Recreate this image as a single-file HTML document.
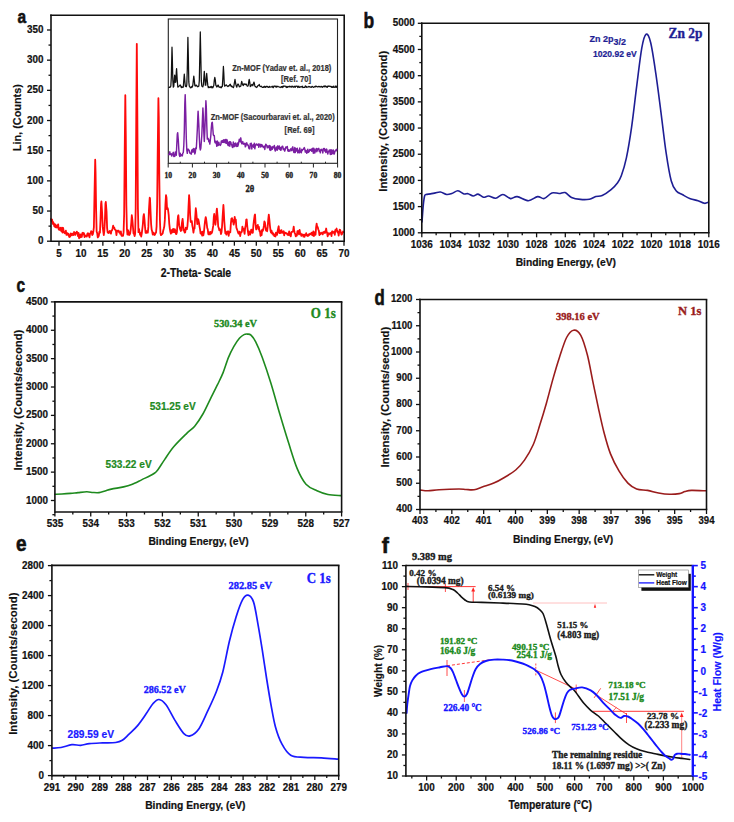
<!DOCTYPE html>
<html><head><meta charset="utf-8"><title>Figure</title>
<style>html,body{margin:0;padding:0;background:#fff;width:734px;height:822px;overflow:hidden}svg{display:block}</style>
</head><body>
<svg width="734" height="822" viewBox="0 0 734 822">
<rect width="734" height="822" fill="#fff"/>
<path d="M51,219.11 L51.55,221.31 L52.1,219.52 L52.65,223.88 L53.2,222.1 L53.75,223.86 L54.3,226.28 L54.85,224.17 L55.4,227.23 L55.95,225.16 L56.5,227.44 L57.05,227.55 L57.6,226.02 L58.15,224.35 L58.7,229.38 L59.25,229.93 L59.8,228.7 L60.35,227.69 L60.9,230.26 L61.45,231.3 L62,227.63 L62.55,232.66 L63.1,227.78 L63.65,231.19 L64.2,232.46 L64.75,233.27 L65.3,232.9 L65.85,230.67 L66.4,234.96 L66.95,233.11 L67.5,233.12 L68.05,234.9 L68.6,234.03 L69.15,236.93 L69.7,236.99 L70.25,236.15 L70.8,233.38 L71.35,234.8 L71.9,235.39 L72.45,233.71 L73,234.35 L73.55,235.07 L74.1,232.02 L74.65,232.4 L75.2,234.9 L75.75,232.94 L76.3,233.34 L76.85,231.62 L77.4,232.97 L77.95,236.17 L78.5,232.8 L79.05,238.26 L79.6,236.65 L80.15,234.42 L80.7,237.35 L81.25,234.72 L81.8,236.81 L82.35,233.01 L82.9,232.71 L83.45,234.37 L84,233.28 L84.55,237.12 L85.1,235.3 L85.65,236.03 L86.2,236.05 L86.75,236.56 L87.3,234.05 L87.85,233.14 L88.4,235.51 L88.95,234.08 L89.5,237.28 L90.05,233.31 L90.6,233.4 L91.15,231.21 L91.7,232.04 L92.25,235.01 L92.8,234.26 L93.35,231.52 L93.9,227.03 L94.45,196.47 L95.2,159.74 L95.55,171.67 L96.1,209.06 L96.65,231.75 L97.2,233.06 L97.75,237.47 L98.3,236.76 L98.85,235.53 L99.4,231.71 L99.95,232.64 L100.5,219.72 L101.05,203.95 L101.4,201.37 L102.15,213.28 L102.7,226.65 L103.25,231.27 L103.8,235.05 L104.35,230.77 L104.9,220.58 L105.45,203.65 L105.8,201.98 L106.55,211.61 L107.1,227.83 L107.65,232.37 L108.2,232.93 L108.75,233 L109.3,231.53 L109.85,230.86 L110.4,232.56 L110.95,233.68 L111.5,230.7 L112.05,230.26 L112.6,228.4 L113.15,225.66 L113.8,227.92 L114.25,227.51 L114.8,229.38 L115.35,229.89 L115.9,230.64 L116.45,235.1 L117,230.67 L117.55,231.41 L118.1,230.57 L118.65,230.53 L119.2,232.41 L119.75,232.12 L120.3,233.95 L120.85,231.35 L121.4,235.37 L121.95,236.01 L122.5,235.59 L123.05,235.75 L123.6,232.13 L124.15,214.31 L124.7,152.5 L125.3,95.17 L125.8,136.99 L126.35,204.94 L126.9,228.85 L127.45,234.59 L128,230.2 L128.55,232.05 L129.1,235.03 L129.65,234.58 L130.2,233.25 L130.75,229.11 L131.3,222.59 L131.8,215.25 L132.4,220.05 L132.95,226.92 L133.5,233.38 L134.05,233.92 L134.6,236.12 L135.15,233.73 L135.7,208.27 L136.25,119.3 L136.8,43.88 L137.35,115.15 L137.9,207.71 L138.45,232.14 L139,228.99 L139.55,231.94 L140.1,234.8 L140.65,233.16 L141.2,236.59 L141.75,233.55 L142.3,229.2 L142.85,224.33 L143.4,216.38 L143.9,214.05 L144.5,219.68 L145.05,227.21 L145.6,232.87 L146.15,230.9 L146.7,232.89 L147.25,231.56 L147.8,232.59 L148.35,226.9 L148.9,210.74 L149.7,197.75 L150,198.33 L150.55,211.53 L151.1,223.97 L151.65,229.61 L152.2,231.49 L152.75,234.53 L153.3,232.66 L153.85,233.37 L154.4,235.02 L154.95,234.78 L155.5,233.08 L156.05,232.69 L156.6,226.4 L157.15,204.18 L157.7,153 L158.4,98.19 L158.8,117.16 L159.35,179.96 L159.9,219.44 L160.45,233.31 L161,235.19 L161.55,234.63 L162.1,234.09 L162.65,233.47 L163.2,230.74 L163.75,228.68 L164.3,226.35 L164.85,219.88 L165.4,204.93 L166,195.19 L166.5,197.77 L167.05,209.11 L167.6,208.15 L168,209.35 L168.7,214.93 L169.25,223.58 L169.8,228.55 L170.35,231.73 L170.9,233.69 L171.45,230.08 L172,232.63 L172.55,229.85 L173.1,228.82 L173.65,232.15 L174.2,232.16 L174.75,229.09 L175.3,230.53 L175.85,233.93 L176.4,234 L176.95,231.94 L177.5,222.16 L178.05,216.12 L178.4,215.25 L179.15,225.17 L179.7,227.64 L180.25,229.35 L180.8,230.97 L181.35,230.14 L181.9,223.11 L182.6,218.87 L183,222.67 L183.55,230.5 L184.1,229.57 L184.65,232.64 L185.2,232.46 L185.75,227.63 L186.3,227.9 L186.85,229.22 L187.4,226.38 L187.95,219.27 L188.5,207 L189.1,195.1 L189.6,201.86 L190.15,215.25 L190.7,221.98 L191.5,221.74 L191.8,221.17 L192.35,225.83 L192.9,228.42 L193.45,232.72 L194,228.79 L194.55,228.43 L195.1,218.47 L195.8,208.24 L196.2,211.56 L196.75,218.09 L197.3,224.13 L197.85,219.12 L198.3,219.42 L198.95,222.51 L199.5,226.35 L200.05,229.41 L200.6,233.71 L201.15,231.86 L201.7,233.92 L202.25,235.66 L202.8,231.69 L203.35,235.45 L203.9,232.41 L204.45,226.93 L205,221.44 L205.7,217.06 L206.1,218.78 L206.65,223.07 L207.2,227.96 L207.75,229.29 L208.3,234.24 L208.85,232.11 L209.4,234.28 L209.95,234.42 L210.5,231.81 L211.05,233.53 L211.6,233.31 L212.15,231.82 L212.7,228.79 L213.25,225.64 L213.8,216.99 L214.2,214 L214.9,220.73 L215.45,224.74 L216,219.15 L216.55,211.6 L216.9,208.58 L217.65,217.33 L218.2,226.46 L218.75,227.84 L219.3,230.22 L219.85,229.48 L220.4,229.52 L220.95,234.02 L221.5,232.16 L222.05,226.45 L222.6,216.95 L223.4,204.99 L223.7,209.62 L224.25,220.59 L224.8,227.85 L225.35,233.3 L225.9,233.13 L226.45,234.58 L227,231.67 L227.55,231.52 L228.1,231.26 L228.65,235.77 L229.2,232.36 L229.75,231.75 L230.3,232.32 L230.85,223.84 L231.4,218.66 L232,218.14 L232.5,221.47 L233.05,220.11 L233.6,224.68 L234.15,222.52 L234.7,216.83 L235.1,219.33 L235.8,219.52 L236.35,227.45 L236.9,229.21 L237.45,230.52 L238,232.33 L238.55,233.6 L239.1,233.35 L239.65,231.56 L240.2,236.11 L240.75,232.94 L241.3,232.15 L241.85,231.82 L242.4,226.72 L242.95,228.7 L243.5,228.93 L244.05,230.86 L244.6,233.84 L245.15,227.71 L245.7,225.57 L246.25,219.57 L246.7,219.48 L247.35,227 L247.9,231.32 L248.45,235.24 L249,231.42 L249.55,234.12 L250.1,234.61 L250.65,232.63 L251.2,229.58 L251.75,229.94 L252.3,232.95 L252.85,232.69 L253.4,225.01 L253.95,220.32 L254.7,215.18 L255.05,214.51 L255.6,224.62 L256.15,229.48 L256.7,226.13 L257.25,226.08 L257.8,224.9 L258.35,229.02 L258.9,226.8 L259.45,231.1 L260,231.52 L260.55,235.98 L261.1,231.14 L261.65,235.04 L262.2,229.6 L262.75,230.85 L263.3,229.71 L263.85,225.88 L264.4,221.3 L264.9,222.49 L265.5,226.65 L266.05,230.66 L266.6,230.46 L267.15,231.18 L267.7,226.9 L268.25,219.37 L268.8,214.64 L269.35,219.57 L269.9,225.63 L270.45,230.22 L271,232.55 L271.55,230.64 L272.1,233.65 L272.65,232.64 L273.2,234.71 L273.75,233.94 L274.3,236.05 L274.85,234.92 L275.4,236.51 L275.95,232.54 L276.5,233.57 L277.05,234.86 L277.6,231.14 L278.4,227.32 L278.7,226.25 L279.25,233.01 L279.8,230.47 L280.35,233.03 L280.9,232.37 L281.45,230.16 L282,232.79 L282.55,232.58 L283.1,232.21 L283.65,231.21 L284.2,235.37 L284.75,232.6 L285.3,232.99 L285.85,232.8 L286.4,233.5 L286.95,233.34 L287.5,234.8 L288.05,234.4 L288.6,234.98 L289.15,231.46 L289.7,234.67 L290.25,235.59 L290.8,236.37 L291.35,232.19 L291.9,231.85 L292.45,231.79 L293,231.45 L293.7,226.72 L294.1,230.3 L294.65,232.79 L295.2,233.93 L295.75,236.4 L296.3,234.76 L296.85,235.63 L297.4,231.31 L297.95,230.9 L298.5,232.98 L299.05,234.35 L299.6,229.88 L300.15,233.56 L300.7,233.42 L301.25,235.89 L301.8,234.31 L302.35,234.44 L302.9,234.77 L303.45,236.66 L304,234.61 L304.55,236.89 L305.1,234.69 L305.65,235.16 L306.2,233.16 L306.75,235.39 L307.3,235.93 L307.85,234.86 L308.4,235.82 L308.95,234.2 L309.5,234.79 L310.05,233.61 L310.6,234.13 L311.15,233.68 L311.7,232.58 L312.25,235.24 L312.8,235.41 L313.35,231.41 L313.9,236.06 L314.45,232.51 L315,232.57 L315.55,234.8 L316.1,227.39 L316.65,223.73 L317,226.11 L317.75,227.2 L318.3,229.55 L318.85,230.63 L319.4,235.15 L319.95,233.4 L320.5,234.05 L321.05,232.68 L321.6,233.27 L322.15,233.27 L322.7,234.43 L323.25,232.07 L323.8,232.54 L324.35,231.62 L324.9,233.04 L325.45,232.26 L326.2,228.53 L326.55,231.3 L327.1,232.76 L327.65,236.45 L328.2,233.04 L328.75,234.66 L329.3,233.96 L329.85,233.58 L330.4,232.87 L330.95,233.63 L331.5,236.16 L332.05,231.34 L332.6,231.48 L333.15,232.8 L333.7,232.56 L334.25,231.78 L334.8,234.94 L335.35,230.02 L335.9,230.77 L336.6,228.53 L337,230.96 L337.55,232.33 L338.1,231.66 L338.65,235.54 L339.2,232.18 L339.75,229.55 L340.3,230.34 L340.85,232.56 L341.4,234.58 L341.95,234.29 L342.5,232.62 L343.05,231.56 L343.6,232.1" fill="none" stroke="#ff0a0a" stroke-width="1.8" stroke-linejoin="round" stroke-linecap="round" />
<rect x="168.3" y="19.0" width="169.2" height="144.3" fill="none" stroke="#222" stroke-width="1.1"/>
<line x1="168.2" y1="163.3" x2="168.2" y2="167.5" stroke="#222" stroke-width="1" />
<text x="0" y="0" font-size="7.6" text-anchor="middle" fill="#222" stroke="#222" stroke-width="0.35" style="font-family:'Liberation Serif',serif;font-weight:bold" transform="translate(168.2,177.5) scale(1,1.06)" >10</text>
<line x1="192.4" y1="163.3" x2="192.4" y2="167.5" stroke="#222" stroke-width="1" />
<text x="0" y="0" font-size="7.6" text-anchor="middle" fill="#222" stroke="#222" stroke-width="0.35" style="font-family:'Liberation Serif',serif;font-weight:bold" transform="translate(192.4,177.5) scale(1,1.06)" >20</text>
<line x1="216.6" y1="163.3" x2="216.6" y2="167.5" stroke="#222" stroke-width="1" />
<text x="0" y="0" font-size="7.6" text-anchor="middle" fill="#222" stroke="#222" stroke-width="0.35" style="font-family:'Liberation Serif',serif;font-weight:bold" transform="translate(216.6,177.5) scale(1,1.06)" >30</text>
<line x1="240.8" y1="163.3" x2="240.8" y2="167.5" stroke="#222" stroke-width="1" />
<text x="0" y="0" font-size="7.6" text-anchor="middle" fill="#222" stroke="#222" stroke-width="0.35" style="font-family:'Liberation Serif',serif;font-weight:bold" transform="translate(240.8,177.5) scale(1,1.06)" >40</text>
<line x1="265" y1="163.3" x2="265" y2="167.5" stroke="#222" stroke-width="1" />
<text x="0" y="0" font-size="7.6" text-anchor="middle" fill="#222" stroke="#222" stroke-width="0.35" style="font-family:'Liberation Serif',serif;font-weight:bold" transform="translate(265,177.5) scale(1,1.06)" >50</text>
<line x1="289.2" y1="163.3" x2="289.2" y2="167.5" stroke="#222" stroke-width="1" />
<text x="0" y="0" font-size="7.6" text-anchor="middle" fill="#222" stroke="#222" stroke-width="0.35" style="font-family:'Liberation Serif',serif;font-weight:bold" transform="translate(289.2,177.5) scale(1,1.06)" >60</text>
<line x1="313.4" y1="163.3" x2="313.4" y2="167.5" stroke="#222" stroke-width="1" />
<text x="0" y="0" font-size="7.6" text-anchor="middle" fill="#222" stroke="#222" stroke-width="0.35" style="font-family:'Liberation Serif',serif;font-weight:bold" transform="translate(313.4,177.5) scale(1,1.06)" >70</text>
<line x1="337.6" y1="163.3" x2="337.6" y2="167.5" stroke="#222" stroke-width="1" />
<text x="0" y="0" font-size="7.6" text-anchor="middle" fill="#222" stroke="#222" stroke-width="0.35" style="font-family:'Liberation Serif',serif;font-weight:bold" transform="translate(337.6,177.5) scale(1,1.06)" >80</text>
<line x1="180.3" y1="163.3" x2="180.3" y2="161.7" stroke="#222" stroke-width="1" />
<line x1="204.5" y1="163.3" x2="204.5" y2="161.7" stroke="#222" stroke-width="1" />
<line x1="228.7" y1="163.3" x2="228.7" y2="161.7" stroke="#222" stroke-width="1" />
<line x1="252.9" y1="163.3" x2="252.9" y2="161.7" stroke="#222" stroke-width="1" />
<line x1="277.1" y1="163.3" x2="277.1" y2="161.7" stroke="#222" stroke-width="1" />
<line x1="301.3" y1="163.3" x2="301.3" y2="161.7" stroke="#222" stroke-width="1" />
<line x1="325.5" y1="163.3" x2="325.5" y2="161.7" stroke="#222" stroke-width="1" />
<text x="0" y="0" font-size="8.6" text-anchor="middle" fill="#222" stroke="#222" stroke-width="0.35" style="font-family:'Liberation Serif',serif;font-weight:bold" transform="translate(249.9,191.6) scale(1,1.2)" >2&#952;</text>
<path d="M168.8,87.62 L169.3,87.12 L169.8,87.4 L170.3,87.01 L170.8,86.25 L171.3,77.6 L172,47.19 L172.3,56.8 L172.8,79.86 L173.3,87.14 L173.8,86.33 L174.3,78.68 L174.7,75.17 L175.3,82.41 L175.8,81.94 L176.3,72.15 L176.6,68.67 L177.3,80.92 L177.8,87.04 L178.3,86.87 L178.8,86.23 L179.3,86.03 L180,85.16 L180.3,84.98 L180.8,85.97 L181.3,87.6 L181.8,86.7 L182.3,87 L182.8,87.44 L183.3,87.08 L183.8,80.06 L184.3,74.14 L184.8,80.68 L185.3,85.98 L185.8,86.51 L186.3,86.75 L186.8,84.72 L187.3,68.94 L187.9,37.33 L188.3,54.69 L188.8,81.94 L189.3,86.21 L189.8,86.51 L190.3,87.77 L190.8,87.7 L191.3,87.57 L191.8,86.37 L192.3,87.07 L192.8,85.31 L193.3,80.63 L193.8,76.1 L194.3,80.24 L194.8,85.34 L195.3,86.1 L196,85.1 L196.3,85.17 L196.8,86.05 L197.3,86.2 L197.8,86.77 L198.3,86.4 L198.8,86.2 L199.3,80.72 L199.8,55.68 L200.3,31.89 L200.8,56.49 L201.3,80.92 L201.8,86.02 L202.3,86.42 L202.8,86.88 L203.3,85.14 L203.8,78.68 L204.3,71.37 L204.8,77.68 L205.3,85.21 L205.8,85.19 L206.3,78.34 L206.7,73.46 L207.3,80.53 L207.8,85.43 L208.3,87.68 L208.8,86.57 L209.3,87.2 L209.8,87.61 L210.3,87.38 L210.8,86.62 L211.3,86.45 L211.8,87.77 L212.3,86.86 L212.8,87.76 L213.3,86.45 L213.8,85.45 L214.3,80.06 L214.8,77.43 L215.3,79.89 L215.8,85.16 L216.3,85.94 L216.8,86.98 L217.3,86.61 L218,85.02 L218.3,85.07 L218.8,86.86 L219.3,87.25 L219.8,87.13 L220.3,86.84 L220.8,87.56 L221.3,87.74 L221.8,86.4 L222.3,86.59 L222.8,78.71 L223.4,66.49 L223.8,73.14 L224.3,84.76 L224.8,86.24 L225.3,85.54 L226,85 L226.3,84.88 L226.8,85.55 L227.3,86.26 L227.8,86.5 L228.3,85.89 L228.8,86.04 L229.3,85.31 L230,84.48 L230.3,84.28 L230.8,85.79 L231.3,86.52 L231.8,85.95 L232.3,86.88 L232.8,86.88 L233.3,87.68 L233.8,86.4 L234.3,83.48 L235,79.46 L235.3,81.26 L235.8,84.14 L236.3,86.19 L236.8,87.12 L237.3,85.11 L238,83.95 L238.3,84.32 L238.8,85.3 L239.3,86.81 L239.8,86.55 L240.3,86.34 L240.8,86.25 L241.3,83.41 L241.7,81.44 L242.3,83.52 L242.8,84.93 L243.3,85.59 L244,83.74 L244.3,83.91 L244.8,84.31 L245.3,84.7 L246,83.9 L246.3,84.32 L246.8,85.3 L247.3,86.18 L247.8,86.15 L248.3,85.17 L248.8,81.33 L249.2,79.41 L249.8,82.31 L250.3,86.56 L250.8,86.26 L251.3,85.16 L252,84.4 L252.3,84.93 L252.8,85.76 L253.3,83.95 L254,82.08 L254.3,83.17 L254.8,85.71 L255.3,86.7 L255.8,86.55 L256.3,87.51 L256.8,87.1 L257.3,86.88 L257.8,85.61 L258.3,85.56 L259,84.88 L259.3,84.43 L259.8,86.12 L260.3,86.52 L260.8,86.42 L261.3,86.2 L261.8,86.94 L262.3,87.31 L262.8,87.47 L263.3,86.82 L263.8,87.36 L264.3,86.37 L264.8,86.32 L265.3,87.36 L265.8,87.21 L266.3,86.36 L266.8,86.62 L267.3,86.36 L267.8,87.1 L268.3,87.44 L268.8,87.18 L269.3,86.37 L269.8,87.21 L270.3,87.08 L270.8,86.97 L271.3,86.96 L271.8,86.98 L272.3,86.16 L272.8,87.38 L273.3,87.62 L273.8,86.12 L274.3,86.22 L274.8,86.04 L275.3,86.93 L275.8,86.1 L276.3,86.13 L276.8,87.26 L277.3,86.42 L277.8,86.27 L278.3,86.55 L278.8,86.78 L279.3,87.14 L279.8,87.06 L280.3,87.24 L280.8,87.49 L281.3,86.66 L281.8,87.14 L282.3,86.3 L282.8,87.52 L283.3,86.15 L283.8,86.48 L284.3,86.11 L284.8,86.15 L285.3,86.15 L285.8,86.66 L286.3,87.56 L286.8,86.39 L287.3,87.3 L287.8,87.1 L288.3,86.51 L288.8,86.73 L289.3,86.91 L289.8,86.07 L290.3,86.59 L290.8,87.02 L291.3,87.16 L291.8,86.18 L292.3,86.8 L292.8,86.31 L293.3,86.99 L293.8,87.24 L294.3,86.7 L294.8,86.25 L295.3,87.28 L295.8,86.28 L296.3,86.07 L296.8,86.26 L297.3,86.23 L297.8,87.53 L298.3,86.53 L298.8,86.16 L299.3,87.46 L299.8,87.1 L300.3,87.1 L300.8,86.69 L301.3,86.85 L301.8,86.77 L302.3,86.28 L302.8,87.52 L303.3,87.43 L303.8,87.32 L304.3,87.32 L304.8,87.41 L305.3,85.96 L305.8,86.15 L306.3,87.37 L306.8,86.71 L307.3,87 L307.8,87 L308.3,86.94 L308.8,86.47 L309.3,86.56 L309.8,86.92 L310.3,87.19 L310.8,86.97 L311.3,87.3 L311.8,86.6 L312.3,86.35 L312.8,86.88 L313.3,87.36 L313.8,87.2 L314.3,86.89 L314.8,86.51 L315.3,86.23 L315.8,86.87 L316.3,86.19 L316.8,86.48 L317.3,86.78 L317.8,86.88 L318.3,86.68 L318.8,86.34 L319.3,86.79 L319.8,86.35 L320.3,86.73 L320.8,87.07 L321.3,86.6 L321.8,86.34 L322.3,87.34 L322.8,86.77 L323.3,86.77 L323.8,86.04 L324.3,85.95 L324.8,86.85 L325.3,86.01 L325.8,86.18 L326.3,87.02 L326.8,86.7 L327.3,87.24 L327.8,86.13 L328.3,86.37 L328.8,86.01 L329.3,86.16 L329.8,86.36 L330.3,86.25 L330.8,86.52 L331.3,87.26 L331.8,86.48 L332.3,87.41 L332.8,87.19 L333.3,86.18 L333.8,87.34 L334.3,87.27 L334.8,87.25 L335.3,86 L335.8,87.12 L336.3,87.37 L336.8,86.06" fill="none" stroke="#111" stroke-width="1.25" stroke-linejoin="round" stroke-linecap="round" />
<path d="M168.8,154.72 L169.3,154.03 L169.8,151.8 L170.3,154.51 L170.8,154.22 L171.3,153.7 L171.8,156.08 L172.3,154.07 L172.8,153.32 L173.3,152.3 L173.8,156.45 L174.3,155.15 L174.8,156.39 L175.3,152.03 L175.8,152.56 L176.3,155.24 L176.8,144.19 L177.3,134.19 L177.7,132.69 L178.3,140.1 L178.8,149.11 L179.3,155.05 L179.8,156.39 L180.3,153.28 L180.8,156.01 L181.3,155.14 L181.8,154.75 L182.3,155.93 L182.8,153.2 L183.3,152.63 L183.8,145.63 L184.3,131.29 L184.8,104.23 L185.2,94.63 L185.8,115.31 L186.3,138.41 L186.8,150.15 L187.3,153.36 L187.8,149.2 L188.3,149.14 L188.8,149.99 L189.3,150.7 L189.8,152.98 L190.3,153.41 L190.8,152.97 L191.3,154.2 L191.8,149.94 L192.3,152.05 L192.8,149.29 L193.3,151.96 L193.8,148.45 L194.3,149.03 L194.8,154.03 L195.3,152.54 L195.8,147.82 L196.3,148.7 L196.8,139.53 L197.3,129.67 L197.8,117.02 L198.1,111.14 L198.8,124.19 L199.3,137.2 L199.8,147.12 L200.3,149.97 L200.8,148.34 L201.3,142.29 L201.8,135.26 L202.3,123.02 L202.9,107.91 L203.3,115.46 L203.8,132.37 L204.3,141.54 L204.8,131.5 L205.3,117.39 L205.9,100.71 L206.3,107.16 L206.8,126.03 L207.3,139.14 L207.8,138.11 L208.4,138.87 L208.8,141.66 L209.3,140.22 L209.8,144.14 L210.3,140.17 L210.8,135.62 L211.3,128.05 L211.8,122.91 L212.3,122.31 L212.8,128.35 L213.3,134.96 L213.8,135.69 L214.3,135.45 L214.8,142.03 L215.3,142.97 L215.8,141.27 L216.3,142.92 L216.8,146.27 L217.3,140.97 L217.8,145.64 L218.3,145.36 L218.8,142.21 L219.3,144.71 L219.8,144.57 L220.3,145.37 L220.8,144.6 L221.3,141.01 L221.8,142.68 L222.3,140.57 L222.8,142.34 L223.3,142.37 L223.8,139.67 L224.3,142.51 L224.8,141.62 L225.3,139.4 L225.8,143.21 L226.3,143.47 L226.8,139.43 L227.3,140.68 L227.8,144.79 L228.3,145.69 L228.8,142.74 L229.3,141.72 L229.8,146.28 L230.3,141.82 L230.8,142.28 L231.3,144.01 L231.8,145.15 L232.3,147.11 L232.8,147.55 L233.3,142.05 L233.8,146.45 L234.3,143.69 L234.8,146.42 L235.3,143.03 L235.8,144.37 L236.3,146.1 L236.8,146.6 L237.3,142.96 L237.8,146.32 L238.3,144.63 L238.8,141.81 L239.3,139.25 L239.8,140.05 L240.3,141.71 L240.8,137.85 L241.3,142.32 L241.8,143.7 L242.3,142.4 L242.8,141.54 L243.3,144.17 L243.8,144.04 L244.3,143.68 L244.8,143.35 L245.3,146.79 L245.8,146 L246.3,143.19 L246.8,142.85 L247.3,144.89 L247.8,144.73 L248.3,145.41 L248.8,148.1 L249.3,148.75 L249.8,148.88 L250.3,143.55 L250.8,144.83 L251.3,143.29 L251.8,148.96 L252.3,145.3 L252.8,146.25 L253.3,144.78 L253.8,147.28 L254.3,143.22 L254.8,148.79 L255.3,145.99 L255.8,144.87 L256.3,143.91 L256.8,144.92 L257.3,145.14 L257.8,144.63 L258.3,143.92 L258.8,147.33 L259.3,145.35 L259.8,144.08 L260.3,144.3 L260.8,147.08 L261.3,144.89 L261.8,144.5 L262.3,146.29 L262.8,146.03 L263.3,147.54 L263.8,146.38 L264.3,146.28 L264.8,149.5 L265.3,146.19 L265.8,144.12 L266.3,144.85 L266.8,145.81 L267.3,147.9 L267.8,145.87 L268.3,146.84 L268.8,147.74 L269.3,145.4 L269.8,149.98 L270.3,146.03 L270.8,150.4 L271.3,147.02 L271.8,147.79 L272.3,149.35 L272.8,146.59 L273.3,147.85 L273.8,147.19 L274.3,145.41 L274.8,149.45 L275.3,150.96 L275.8,149.27 L276.3,147.06 L276.8,149.96 L277.3,150.21 L277.8,145.85 L278.3,147.37 L278.8,148.73 L279.3,146.08 L279.8,149.52 L280.3,147.53 L280.8,150.39 L281.3,149.04 L281.8,146.84 L282.3,146.24 L282.8,146.5 L283.3,149.52 L283.8,148.38 L284.3,150.03 L284.8,151.16 L285.3,149.05 L285.8,147.06 L286.3,147.04 L286.8,147.91 L287.3,146.53 L287.8,150.62 L288.3,151.32 L288.8,149.68 L289.3,150.78 L289.8,151.2 L290.3,150.03 L290.8,148.79 L291.3,149.61 L291.8,150.7 L292.3,147.59 L292.8,146.76 L293.3,149.96 L293.8,152.25 L294.3,152.54 L294.8,147.52 L295.3,152.53 L295.8,148.56 L296.3,149.41 L296.8,151.01 L297.3,148.14 L297.8,152.8 L298.3,152.13 L298.8,150.24 L299.3,152.85 L299.8,148.04 L300.3,151.62 L300.8,152.23 L301.3,152.82 L301.8,149.35 L302.3,150.48 L302.8,149.4 L303.3,149.28 L303.8,148.39 L304.3,147.51 L304.8,149.18 L305.3,152.12 L305.8,150.49 L306.3,152.29 L306.8,153.33 L307.3,150.59 L307.8,149.16 L308.3,152.4 L308.8,151.87 L309.3,151.45 L309.8,149.37 L310.3,150.46 L310.8,149.92 L311.3,149.1 L311.8,151.3 L312.3,148.93 L312.8,148.28 L313.3,153.22 L313.8,148.17 L314.3,149.46 L314.8,153.04 L315.3,151.12 L315.8,150.12 L316.3,148.44 L316.8,151.66 L317.3,150.54 L317.8,148.7 L318.3,149.22 L318.8,148.37 L319.3,151.28 L319.8,150.18 L320.3,152.88 L320.8,149.81 L321.3,149.25 L321.8,150.34 L322.3,149.91 L322.8,152.96 L323.3,148.87 L323.8,148.41 L324.3,148.46 L324.8,151.13 L325.3,149.63 L325.8,152.48 L326.3,148.97 L326.8,149.32 L327.3,152.39 L327.8,154.01 L328.3,151.89 L328.8,151.26 L329.3,149.98 L329.8,151.69 L330.3,154.47 L330.8,149.82 L331.3,154.31 L331.8,149.92 L332.3,153.71 L332.8,152.77 L333.3,150.08 L333.8,153.99 L334.3,153.96 L334.8,151.78 L335.3,150.57 L335.8,149.9 L336.3,150.83 L336.8,149.31" fill="none" stroke="#7b1fa2" stroke-width="1.45" stroke-linejoin="round" stroke-linecap="round" />
<text x="0" y="0" font-size="7.5" text-anchor="start" fill="#333" stroke="#333" stroke-width="0.2" style="font-family:'Liberation Sans',sans-serif;font-weight:bold" transform="translate(232.2,71.3) scale(1,1.15)" >Zn-MOF (Yadav et. al., 2018)</text>
<text x="0" y="0" font-size="7.6" text-anchor="start" fill="#333" stroke="#333" stroke-width="0.2" style="font-family:'Liberation Sans',sans-serif;font-weight:bold" transform="translate(281,82.3) scale(1,1.15)" >[Ref. 70]</text>
<text x="0" y="0" font-size="7.45" text-anchor="start" fill="#333" stroke="#333" stroke-width="0.2" style="font-family:'Liberation Sans',sans-serif;font-weight:bold" transform="translate(210.7,119.9) scale(1,1.15)" >Zn-MOF (Sacourbaravi et. al., 2020)</text>
<text x="0" y="0" font-size="7.6" text-anchor="start" fill="#333" stroke="#333" stroke-width="0.2" style="font-family:'Liberation Sans',sans-serif;font-weight:bold" transform="translate(284.6,133.2) scale(1,1.15)" >[Ref. 69]</text>
<line x1="51" y1="241.2" x2="345" y2="241.2" stroke="#111" stroke-width="1.6" />
<line x1="51" y1="14.5" x2="51" y2="242" stroke="#111" stroke-width="1.6" />
<line x1="50.2" y1="15.3" x2="345" y2="15.3" stroke="#111" stroke-width="1.6" />
<line x1="344.2" y1="15.3" x2="344.2" y2="241.2" stroke="#111" stroke-width="1.6" />
<line x1="59" y1="241.2" x2="59" y2="245.7" stroke="#111" stroke-width="1.3" />
<line x1="80.92" y1="241.2" x2="80.92" y2="245.7" stroke="#111" stroke-width="1.3" />
<line x1="102.85" y1="241.2" x2="102.85" y2="245.7" stroke="#111" stroke-width="1.3" />
<line x1="124.77" y1="241.2" x2="124.77" y2="245.7" stroke="#111" stroke-width="1.3" />
<line x1="146.69" y1="241.2" x2="146.69" y2="245.7" stroke="#111" stroke-width="1.3" />
<line x1="168.62" y1="241.2" x2="168.62" y2="245.7" stroke="#111" stroke-width="1.3" />
<line x1="190.54" y1="241.2" x2="190.54" y2="245.7" stroke="#111" stroke-width="1.3" />
<line x1="212.46" y1="241.2" x2="212.46" y2="245.7" stroke="#111" stroke-width="1.3" />
<line x1="234.38" y1="241.2" x2="234.38" y2="245.7" stroke="#111" stroke-width="1.3" />
<line x1="256.31" y1="241.2" x2="256.31" y2="245.7" stroke="#111" stroke-width="1.3" />
<line x1="278.23" y1="241.2" x2="278.23" y2="245.7" stroke="#111" stroke-width="1.3" />
<line x1="300.15" y1="241.2" x2="300.15" y2="245.7" stroke="#111" stroke-width="1.3" />
<line x1="322.08" y1="241.2" x2="322.08" y2="245.7" stroke="#111" stroke-width="1.3" />
<line x1="344" y1="241.2" x2="344" y2="245.7" stroke="#111" stroke-width="1.3" />
<line x1="69.96" y1="241.2" x2="69.96" y2="243.7" stroke="#111" stroke-width="1.3" />
<line x1="91.88" y1="241.2" x2="91.88" y2="243.7" stroke="#111" stroke-width="1.3" />
<line x1="113.81" y1="241.2" x2="113.81" y2="243.7" stroke="#111" stroke-width="1.3" />
<line x1="135.73" y1="241.2" x2="135.73" y2="243.7" stroke="#111" stroke-width="1.3" />
<line x1="157.65" y1="241.2" x2="157.65" y2="243.7" stroke="#111" stroke-width="1.3" />
<line x1="179.58" y1="241.2" x2="179.58" y2="243.7" stroke="#111" stroke-width="1.3" />
<line x1="201.5" y1="241.2" x2="201.5" y2="243.7" stroke="#111" stroke-width="1.3" />
<line x1="223.42" y1="241.2" x2="223.42" y2="243.7" stroke="#111" stroke-width="1.3" />
<line x1="245.35" y1="241.2" x2="245.35" y2="243.7" stroke="#111" stroke-width="1.3" />
<line x1="267.27" y1="241.2" x2="267.27" y2="243.7" stroke="#111" stroke-width="1.3" />
<line x1="289.19" y1="241.2" x2="289.19" y2="243.7" stroke="#111" stroke-width="1.3" />
<line x1="311.12" y1="241.2" x2="311.12" y2="243.7" stroke="#111" stroke-width="1.3" />
<line x1="333.04" y1="241.2" x2="333.04" y2="243.7" stroke="#111" stroke-width="1.3" />
<text x="0" y="0" font-size="9.9" text-anchor="middle" fill="#111" stroke="#111" stroke-width="0.2" style="font-family:'Liberation Sans',sans-serif;font-weight:bold" transform="translate(59,257.3) scale(1,1.15)" >5</text>
<text x="0" y="0" font-size="9.9" text-anchor="middle" fill="#111" stroke="#111" stroke-width="0.2" style="font-family:'Liberation Sans',sans-serif;font-weight:bold" transform="translate(80.92,257.3) scale(1,1.15)" >10</text>
<text x="0" y="0" font-size="9.9" text-anchor="middle" fill="#111" stroke="#111" stroke-width="0.2" style="font-family:'Liberation Sans',sans-serif;font-weight:bold" transform="translate(102.85,257.3) scale(1,1.15)" >15</text>
<text x="0" y="0" font-size="9.9" text-anchor="middle" fill="#111" stroke="#111" stroke-width="0.2" style="font-family:'Liberation Sans',sans-serif;font-weight:bold" transform="translate(124.77,257.3) scale(1,1.15)" >20</text>
<text x="0" y="0" font-size="9.9" text-anchor="middle" fill="#111" stroke="#111" stroke-width="0.2" style="font-family:'Liberation Sans',sans-serif;font-weight:bold" transform="translate(146.69,257.3) scale(1,1.15)" >25</text>
<text x="0" y="0" font-size="9.9" text-anchor="middle" fill="#111" stroke="#111" stroke-width="0.2" style="font-family:'Liberation Sans',sans-serif;font-weight:bold" transform="translate(168.62,257.3) scale(1,1.15)" >30</text>
<text x="0" y="0" font-size="9.9" text-anchor="middle" fill="#111" stroke="#111" stroke-width="0.2" style="font-family:'Liberation Sans',sans-serif;font-weight:bold" transform="translate(190.54,257.3) scale(1,1.15)" >35</text>
<text x="0" y="0" font-size="9.9" text-anchor="middle" fill="#111" stroke="#111" stroke-width="0.2" style="font-family:'Liberation Sans',sans-serif;font-weight:bold" transform="translate(212.46,257.3) scale(1,1.15)" >40</text>
<text x="0" y="0" font-size="9.9" text-anchor="middle" fill="#111" stroke="#111" stroke-width="0.2" style="font-family:'Liberation Sans',sans-serif;font-weight:bold" transform="translate(234.38,257.3) scale(1,1.15)" >45</text>
<text x="0" y="0" font-size="9.9" text-anchor="middle" fill="#111" stroke="#111" stroke-width="0.2" style="font-family:'Liberation Sans',sans-serif;font-weight:bold" transform="translate(256.31,257.3) scale(1,1.15)" >50</text>
<text x="0" y="0" font-size="9.9" text-anchor="middle" fill="#111" stroke="#111" stroke-width="0.2" style="font-family:'Liberation Sans',sans-serif;font-weight:bold" transform="translate(278.23,257.3) scale(1,1.15)" >55</text>
<text x="0" y="0" font-size="9.9" text-anchor="middle" fill="#111" stroke="#111" stroke-width="0.2" style="font-family:'Liberation Sans',sans-serif;font-weight:bold" transform="translate(300.15,257.3) scale(1,1.15)" >60</text>
<text x="0" y="0" font-size="9.9" text-anchor="middle" fill="#111" stroke="#111" stroke-width="0.2" style="font-family:'Liberation Sans',sans-serif;font-weight:bold" transform="translate(322.08,257.3) scale(1,1.15)" >65</text>
<text x="0" y="0" font-size="9.9" text-anchor="middle" fill="#111" stroke="#111" stroke-width="0.2" style="font-family:'Liberation Sans',sans-serif;font-weight:bold" transform="translate(344,257.3) scale(1,1.15)" >70</text>
<line x1="51" y1="241.2" x2="47" y2="241.2" stroke="#111" stroke-width="1.3" />
<line x1="51" y1="211.03" x2="47" y2="211.03" stroke="#111" stroke-width="1.3" />
<line x1="51" y1="180.86" x2="47" y2="180.86" stroke="#111" stroke-width="1.3" />
<line x1="51" y1="150.69" x2="47" y2="150.69" stroke="#111" stroke-width="1.3" />
<line x1="51" y1="120.51" x2="47" y2="120.51" stroke="#111" stroke-width="1.3" />
<line x1="51" y1="90.34" x2="47" y2="90.34" stroke="#111" stroke-width="1.3" />
<line x1="51" y1="60.17" x2="47" y2="60.17" stroke="#111" stroke-width="1.3" />
<line x1="51" y1="30" x2="47" y2="30" stroke="#111" stroke-width="1.3" />
<line x1="51" y1="226.11" x2="48.5" y2="226.11" stroke="#111" stroke-width="1.3" />
<line x1="51" y1="195.94" x2="48.5" y2="195.94" stroke="#111" stroke-width="1.3" />
<line x1="51" y1="165.77" x2="48.5" y2="165.77" stroke="#111" stroke-width="1.3" />
<line x1="51" y1="135.6" x2="48.5" y2="135.6" stroke="#111" stroke-width="1.3" />
<line x1="51" y1="105.43" x2="48.5" y2="105.43" stroke="#111" stroke-width="1.3" />
<line x1="51" y1="75.26" x2="48.5" y2="75.26" stroke="#111" stroke-width="1.3" />
<line x1="51" y1="45.09" x2="48.5" y2="45.09" stroke="#111" stroke-width="1.3" />
<text x="0" y="0" font-size="9.9" text-anchor="end" fill="#111" stroke="#111" stroke-width="0.2" style="font-family:'Liberation Sans',sans-serif;font-weight:bold" transform="translate(43.5,244.28) scale(1,1.15)" >0</text>
<text x="0" y="0" font-size="9.9" text-anchor="end" fill="#111" stroke="#111" stroke-width="0.2" style="font-family:'Liberation Sans',sans-serif;font-weight:bold" transform="translate(43.5,214.1) scale(1,1.15)" >50</text>
<text x="0" y="0" font-size="9.9" text-anchor="end" fill="#111" stroke="#111" stroke-width="0.2" style="font-family:'Liberation Sans',sans-serif;font-weight:bold" transform="translate(43.5,183.93) scale(1,1.15)" >100</text>
<text x="0" y="0" font-size="9.9" text-anchor="end" fill="#111" stroke="#111" stroke-width="0.2" style="font-family:'Liberation Sans',sans-serif;font-weight:bold" transform="translate(43.5,153.76) scale(1,1.15)" >150</text>
<text x="0" y="0" font-size="9.9" text-anchor="end" fill="#111" stroke="#111" stroke-width="0.2" style="font-family:'Liberation Sans',sans-serif;font-weight:bold" transform="translate(43.5,123.59) scale(1,1.15)" >200</text>
<text x="0" y="0" font-size="9.9" text-anchor="end" fill="#111" stroke="#111" stroke-width="0.2" style="font-family:'Liberation Sans',sans-serif;font-weight:bold" transform="translate(43.5,93.42) scale(1,1.15)" >250</text>
<text x="0" y="0" font-size="9.9" text-anchor="end" fill="#111" stroke="#111" stroke-width="0.2" style="font-family:'Liberation Sans',sans-serif;font-weight:bold" transform="translate(43.5,63.25) scale(1,1.15)" >300</text>
<text x="0" y="0" font-size="9.9" text-anchor="end" fill="#111" stroke="#111" stroke-width="0.2" style="font-family:'Liberation Sans',sans-serif;font-weight:bold" transform="translate(43.5,33.08) scale(1,1.15)" >350</text>
<text x="0" y="0" font-size="10.4" text-anchor="middle" fill="#111" stroke="#111" stroke-width="0.2" style="font-family:'Liberation Sans',sans-serif;font-weight:bold" transform="translate(195.9,277.3) scale(1,1.15)" >2-Theta- Scale</text>
<text x="0" y="0" font-size="10.3" fill="#111" stroke="#111" stroke-width="0.15" style="font-family:'Liberation Sans',sans-serif;font-weight:bold" transform="translate(21,151.2) rotate(-90) scale(1.0576,1)">Lin, (Counts)</text>
<text x="0" y="0" font-size="19.1" fill="#111" stroke="#111" stroke-width="0.6" style="font-family:'Liberation Sans',sans-serif;font-weight:bold" transform="translate(17.5,22.6) scale(0.81,1)">a</text>
<path d="M422,222 C422.22,219.17 422.87,209.33 423.3,205 C423.73,200.67 424.15,197.73 424.6,196 C425.05,194.27 425.02,194.95 426,194.6 C426.98,194.25 428.93,194.18 430.5,193.9 C432.07,193.62 433.73,193.22 435.4,192.9 C437.07,192.58 438.62,191.73 440.5,192 C442.38,192.27 444.82,194.25 446.7,194.5 C448.58,194.75 449.93,194.12 451.8,193.5 C453.67,192.88 455.87,190.73 457.9,190.8 C459.93,190.87 462.3,193.42 464,193.9 C465.7,194.38 466.57,193.35 468.1,193.7 C469.63,194.05 471.55,195.93 473.2,196 C474.85,196.07 476.28,193.9 478,194.1 C479.72,194.3 481.73,196.88 483.5,197.2 C485.27,197.52 486.57,195.83 488.6,196 C490.63,196.17 493.32,198.45 495.7,198.2 C498.08,197.95 500.42,194.43 502.9,194.5 C505.38,194.57 508.22,198.25 510.6,198.6 C512.98,198.95 514.23,196.25 517.2,196.6 C520.17,196.95 525,200.7 528.4,200.7 C531.8,200.7 534.97,196.95 537.6,196.6 C540.23,196.25 541.82,199.22 544.2,198.6 C546.58,197.98 549.42,193.75 551.9,192.9 C554.38,192.05 556.9,193.55 559.1,193.5 C561.3,193.45 563.03,191.95 565.1,192.6 C567.17,193.25 568.95,196.27 571.5,197.4 C574.05,198.53 577.42,199.1 580.4,199.4 C583.38,199.7 586.83,199.67 589.4,199.2 C591.97,198.73 593.67,197.2 595.8,196.6 C597.93,196 599.65,196.75 602.2,195.6 C604.75,194.45 608.63,191.72 611.1,189.7 C613.57,187.68 615.3,185.83 617,183.5 C618.7,181.17 619.73,179.98 621.3,175.7 C622.87,171.42 624.68,165.9 626.4,157.8 C628.12,149.7 629.88,139.03 631.6,127.1 C633.32,115.17 635,99.4 636.7,86.2 C638.4,73 640.23,56.57 641.8,47.9 C643.37,39.23 644.62,35.05 646.1,34.2 C647.58,33.35 649.08,36.27 650.7,42.8 C652.32,49.33 654.1,61.9 655.8,73.4 C657.5,84.9 659.18,98.58 660.9,111.8 C662.62,125.02 664.38,141.2 666.1,152.7 C667.82,164.2 669.5,174.42 671.2,180.8 C672.9,187.18 674.38,188.67 676.3,191 C678.22,193.33 680.37,193.52 682.7,194.8 C685.03,196.08 687.75,197.72 690.3,198.7 C692.85,199.68 695.65,199.93 698,200.7 C700.35,201.47 702.68,203.03 704.4,203.3 C706.12,203.57 707.65,202.47 708.3,202.3" fill="none" stroke="#1e1e94" stroke-width="1.6" stroke-linejoin="round" stroke-linecap="round" />
<line x1="421.8" y1="232.8" x2="709.6" y2="232.8" stroke="#111" stroke-width="1.6" />
<line x1="421.8" y1="22.4" x2="421.8" y2="233.6" stroke="#111" stroke-width="1.6" />
<line x1="421" y1="23.2" x2="709.6" y2="23.2" stroke="#111" stroke-width="1.6" />
<line x1="708.8" y1="23.2" x2="708.8" y2="232.8" stroke="#111" stroke-width="1.6" />
<line x1="421.8" y1="232.8" x2="421.8" y2="237.3" stroke="#111" stroke-width="1.3" />
<line x1="450.5" y1="232.8" x2="450.5" y2="237.3" stroke="#111" stroke-width="1.3" />
<line x1="479.2" y1="232.8" x2="479.2" y2="237.3" stroke="#111" stroke-width="1.3" />
<line x1="507.9" y1="232.8" x2="507.9" y2="237.3" stroke="#111" stroke-width="1.3" />
<line x1="536.6" y1="232.8" x2="536.6" y2="237.3" stroke="#111" stroke-width="1.3" />
<line x1="565.3" y1="232.8" x2="565.3" y2="237.3" stroke="#111" stroke-width="1.3" />
<line x1="594" y1="232.8" x2="594" y2="237.3" stroke="#111" stroke-width="1.3" />
<line x1="622.7" y1="232.8" x2="622.7" y2="237.3" stroke="#111" stroke-width="1.3" />
<line x1="651.4" y1="232.8" x2="651.4" y2="237.3" stroke="#111" stroke-width="1.3" />
<line x1="680.1" y1="232.8" x2="680.1" y2="237.3" stroke="#111" stroke-width="1.3" />
<line x1="708.8" y1="232.8" x2="708.8" y2="237.3" stroke="#111" stroke-width="1.3" />
<line x1="436.15" y1="232.8" x2="436.15" y2="235.3" stroke="#111" stroke-width="1.3" />
<line x1="464.85" y1="232.8" x2="464.85" y2="235.3" stroke="#111" stroke-width="1.3" />
<line x1="493.55" y1="232.8" x2="493.55" y2="235.3" stroke="#111" stroke-width="1.3" />
<line x1="522.25" y1="232.8" x2="522.25" y2="235.3" stroke="#111" stroke-width="1.3" />
<line x1="550.95" y1="232.8" x2="550.95" y2="235.3" stroke="#111" stroke-width="1.3" />
<line x1="579.65" y1="232.8" x2="579.65" y2="235.3" stroke="#111" stroke-width="1.3" />
<line x1="608.35" y1="232.8" x2="608.35" y2="235.3" stroke="#111" stroke-width="1.3" />
<line x1="637.05" y1="232.8" x2="637.05" y2="235.3" stroke="#111" stroke-width="1.3" />
<line x1="665.75" y1="232.8" x2="665.75" y2="235.3" stroke="#111" stroke-width="1.3" />
<line x1="694.45" y1="232.8" x2="694.45" y2="235.3" stroke="#111" stroke-width="1.3" />
<text x="0" y="0" font-size="9.9" text-anchor="middle" fill="#111" stroke="#111" stroke-width="0.2" style="font-family:'Liberation Sans',sans-serif;font-weight:bold" transform="translate(421.8,248) scale(1,1.15)" >1036</text>
<text x="0" y="0" font-size="9.9" text-anchor="middle" fill="#111" stroke="#111" stroke-width="0.2" style="font-family:'Liberation Sans',sans-serif;font-weight:bold" transform="translate(450.5,248) scale(1,1.15)" >1034</text>
<text x="0" y="0" font-size="9.9" text-anchor="middle" fill="#111" stroke="#111" stroke-width="0.2" style="font-family:'Liberation Sans',sans-serif;font-weight:bold" transform="translate(479.2,248) scale(1,1.15)" >1032</text>
<text x="0" y="0" font-size="9.9" text-anchor="middle" fill="#111" stroke="#111" stroke-width="0.2" style="font-family:'Liberation Sans',sans-serif;font-weight:bold" transform="translate(507.9,248) scale(1,1.15)" >1030</text>
<text x="0" y="0" font-size="9.9" text-anchor="middle" fill="#111" stroke="#111" stroke-width="0.2" style="font-family:'Liberation Sans',sans-serif;font-weight:bold" transform="translate(536.6,248) scale(1,1.15)" >1028</text>
<text x="0" y="0" font-size="9.9" text-anchor="middle" fill="#111" stroke="#111" stroke-width="0.2" style="font-family:'Liberation Sans',sans-serif;font-weight:bold" transform="translate(565.3,248) scale(1,1.15)" >1026</text>
<text x="0" y="0" font-size="9.9" text-anchor="middle" fill="#111" stroke="#111" stroke-width="0.2" style="font-family:'Liberation Sans',sans-serif;font-weight:bold" transform="translate(594,248) scale(1,1.15)" >1024</text>
<text x="0" y="0" font-size="9.9" text-anchor="middle" fill="#111" stroke="#111" stroke-width="0.2" style="font-family:'Liberation Sans',sans-serif;font-weight:bold" transform="translate(622.7,248) scale(1,1.15)" >1022</text>
<text x="0" y="0" font-size="9.9" text-anchor="middle" fill="#111" stroke="#111" stroke-width="0.2" style="font-family:'Liberation Sans',sans-serif;font-weight:bold" transform="translate(651.4,248) scale(1,1.15)" >1020</text>
<text x="0" y="0" font-size="9.9" text-anchor="middle" fill="#111" stroke="#111" stroke-width="0.2" style="font-family:'Liberation Sans',sans-serif;font-weight:bold" transform="translate(680.1,248) scale(1,1.15)" >1018</text>
<text x="0" y="0" font-size="9.9" text-anchor="middle" fill="#111" stroke="#111" stroke-width="0.2" style="font-family:'Liberation Sans',sans-serif;font-weight:bold" transform="translate(708.8,248) scale(1,1.15)" >1016</text>
<line x1="421.8" y1="232.8" x2="417.8" y2="232.8" stroke="#111" stroke-width="1.3" />
<line x1="421.8" y1="206.61" x2="417.8" y2="206.61" stroke="#111" stroke-width="1.3" />
<line x1="421.8" y1="180.43" x2="417.8" y2="180.43" stroke="#111" stroke-width="1.3" />
<line x1="421.8" y1="154.24" x2="417.8" y2="154.24" stroke="#111" stroke-width="1.3" />
<line x1="421.8" y1="128.05" x2="417.8" y2="128.05" stroke="#111" stroke-width="1.3" />
<line x1="421.8" y1="101.86" x2="417.8" y2="101.86" stroke="#111" stroke-width="1.3" />
<line x1="421.8" y1="75.68" x2="417.8" y2="75.68" stroke="#111" stroke-width="1.3" />
<line x1="421.8" y1="49.49" x2="417.8" y2="49.49" stroke="#111" stroke-width="1.3" />
<line x1="421.8" y1="23.3" x2="417.8" y2="23.3" stroke="#111" stroke-width="1.3" />
<line x1="421.8" y1="219.71" x2="419.3" y2="219.71" stroke="#111" stroke-width="1.3" />
<line x1="421.8" y1="193.52" x2="419.3" y2="193.52" stroke="#111" stroke-width="1.3" />
<line x1="421.8" y1="167.33" x2="419.3" y2="167.33" stroke="#111" stroke-width="1.3" />
<line x1="421.8" y1="141.14" x2="419.3" y2="141.14" stroke="#111" stroke-width="1.3" />
<line x1="421.8" y1="114.96" x2="419.3" y2="114.96" stroke="#111" stroke-width="1.3" />
<line x1="421.8" y1="88.77" x2="419.3" y2="88.77" stroke="#111" stroke-width="1.3" />
<line x1="421.8" y1="62.58" x2="419.3" y2="62.58" stroke="#111" stroke-width="1.3" />
<line x1="421.8" y1="36.39" x2="419.3" y2="36.39" stroke="#111" stroke-width="1.3" />
<text x="0" y="0" font-size="9.9" text-anchor="end" fill="#111" stroke="#111" stroke-width="0.2" style="font-family:'Liberation Sans',sans-serif;font-weight:bold" transform="translate(414.8,235.88) scale(1,1.15)" >1000</text>
<text x="0" y="0" font-size="9.9" text-anchor="end" fill="#111" stroke="#111" stroke-width="0.2" style="font-family:'Liberation Sans',sans-serif;font-weight:bold" transform="translate(414.8,209.69) scale(1,1.15)" >1500</text>
<text x="0" y="0" font-size="9.9" text-anchor="end" fill="#111" stroke="#111" stroke-width="0.2" style="font-family:'Liberation Sans',sans-serif;font-weight:bold" transform="translate(414.8,183.5) scale(1,1.15)" >2000</text>
<text x="0" y="0" font-size="9.9" text-anchor="end" fill="#111" stroke="#111" stroke-width="0.2" style="font-family:'Liberation Sans',sans-serif;font-weight:bold" transform="translate(414.8,157.31) scale(1,1.15)" >2500</text>
<text x="0" y="0" font-size="9.9" text-anchor="end" fill="#111" stroke="#111" stroke-width="0.2" style="font-family:'Liberation Sans',sans-serif;font-weight:bold" transform="translate(414.8,131.13) scale(1,1.15)" >3000</text>
<text x="0" y="0" font-size="9.9" text-anchor="end" fill="#111" stroke="#111" stroke-width="0.2" style="font-family:'Liberation Sans',sans-serif;font-weight:bold" transform="translate(414.8,104.94) scale(1,1.15)" >3500</text>
<text x="0" y="0" font-size="9.9" text-anchor="end" fill="#111" stroke="#111" stroke-width="0.2" style="font-family:'Liberation Sans',sans-serif;font-weight:bold" transform="translate(414.8,78.75) scale(1,1.15)" >4000</text>
<text x="0" y="0" font-size="9.9" text-anchor="end" fill="#111" stroke="#111" stroke-width="0.2" style="font-family:'Liberation Sans',sans-serif;font-weight:bold" transform="translate(414.8,52.56) scale(1,1.15)" >4500</text>
<text x="0" y="0" font-size="9.9" text-anchor="end" fill="#111" stroke="#111" stroke-width="0.2" style="font-family:'Liberation Sans',sans-serif;font-weight:bold" transform="translate(414.8,26.38) scale(1,1.15)" >5000</text>
<text x="0" y="0" font-size="10.3" text-anchor="middle" fill="#111" stroke="#111" stroke-width="0.2" style="font-family:'Liberation Sans',sans-serif;font-weight:bold" transform="translate(565.8,266.4) scale(1,1.15)" >Binding Energy, (eV)</text>
<text x="0" y="0" font-size="10.3" fill="#111" stroke="#111" stroke-width="0.15" style="font-family:'Liberation Sans',sans-serif;font-weight:bold" transform="translate(386.8,191.7) rotate(-90) scale(1.0977,1)">Intensity, (Counts/second)</text>
<text x="0" y="0" font-size="22.1" fill="#111" stroke="#111" stroke-width="0.6" style="font-family:'Liberation Sans',sans-serif;font-weight:bold" transform="translate(363.6,28.0) scale(0.79,1)">b</text>
<text x="0" y="0" font-size="13.4" text-anchor="start" fill="#1e1e94" stroke="#1e1e94" stroke-width="0.35" style="font-family:'Liberation Serif',serif;font-weight:bold" transform="translate(668.6,37.9) scale(1,1.06)" >Zn 2p</text>
<text x="589.5" y="42.3" font-size="9.0" text-anchor="start" fill="#1e1e94" stroke="#1e1e94" stroke-width="0.2" style="font-family:'Liberation Sans',sans-serif;font-weight:bold" >Zn 2p<tspan font-size="8.9" dy="2.4">3/2</tspan></text>
<text x="0" y="0" font-size="8.6" text-anchor="start" fill="#1e1e94" stroke="#1e1e94" stroke-width="0.2" style="font-family:'Liberation Sans',sans-serif;font-weight:bold" transform="translate(592.9,57.3) scale(1,1.15)" >1020.92 eV</text>
<path d="M55,494.3 C56.17,494.25 59.43,494.15 62,494 C64.57,493.85 67.73,493.63 70.4,493.4 C73.07,493.17 75.27,492.87 78,492.6 C80.73,492.33 84.3,491.82 86.8,491.8 C89.3,491.78 90.97,492.37 93,492.5 C95.03,492.63 97,492.85 99,492.6 C101,492.35 102.95,491.58 105,491 C107.05,490.42 108.2,489.78 111.3,489.1 C114.4,488.42 120.2,487.67 123.6,486.9 C127,486.13 128.63,485.72 131.7,484.5 C134.77,483.28 138.95,481.05 142,479.6 C145.05,478.15 148,476.82 150,475.8 C152,474.78 152.78,474.38 154,473.5 C155.22,472.62 155.53,472.82 157.3,470.5 C159.07,468.18 161.87,463.55 164.6,459.6 C167.33,455.65 170.05,451.13 173.7,446.8 C177.35,442.47 183,437.03 186.5,433.6 C190,430.17 191.97,429.47 194.7,426.2 C197.43,422.93 200.32,418.48 202.9,414 C205.48,409.52 207.77,404.18 210.2,399.3 C212.63,394.42 215.37,389.1 217.5,384.7 C219.63,380.3 221.17,377.45 223,372.9 C224.83,368.35 226.68,361.82 228.5,357.4 C230.32,352.98 232.08,349.58 233.9,346.4 C235.72,343.22 237.72,340.27 239.4,338.3 C241.08,336.33 242.65,335.3 244,334.6 C245.35,333.9 246.33,334 247.5,334.1 C248.67,334.2 249.63,333.9 251,335.2 C252.37,336.5 253.83,338.23 255.7,341.9 C257.57,345.57 259.65,350.27 262.2,357.2 C264.75,364.13 268.07,374.02 271,383.5 C273.93,392.98 276.88,404.25 279.8,414.1 C282.72,423.95 285.58,433.47 288.5,442.6 C291.42,451.73 294.38,461.97 297.3,468.9 C300.22,475.83 302.72,480.55 306,484.2 C309.28,487.85 313.35,489.08 317,490.8 C320.65,492.52 323.9,493.7 327.9,494.5 C331.9,495.3 338.82,495.42 341,495.6" fill="none" stroke="#1e8a1e" stroke-width="1.6" stroke-linejoin="round" stroke-linecap="round" />
<line x1="54.9" y1="512" x2="342.4" y2="512" stroke="#111" stroke-width="1.6" />
<line x1="54.9" y1="301.1" x2="54.9" y2="512.8" stroke="#111" stroke-width="1.6" />
<line x1="54.1" y1="301.9" x2="342.4" y2="301.9" stroke="#111" stroke-width="1.6" />
<line x1="341.6" y1="301.9" x2="341.6" y2="512" stroke="#111" stroke-width="1.6" />
<line x1="54.9" y1="512" x2="54.9" y2="516.5" stroke="#111" stroke-width="1.3" />
<line x1="90.74" y1="512" x2="90.74" y2="516.5" stroke="#111" stroke-width="1.3" />
<line x1="126.58" y1="512" x2="126.58" y2="516.5" stroke="#111" stroke-width="1.3" />
<line x1="162.41" y1="512" x2="162.41" y2="516.5" stroke="#111" stroke-width="1.3" />
<line x1="198.25" y1="512" x2="198.25" y2="516.5" stroke="#111" stroke-width="1.3" />
<line x1="234.09" y1="512" x2="234.09" y2="516.5" stroke="#111" stroke-width="1.3" />
<line x1="269.93" y1="512" x2="269.93" y2="516.5" stroke="#111" stroke-width="1.3" />
<line x1="305.76" y1="512" x2="305.76" y2="516.5" stroke="#111" stroke-width="1.3" />
<line x1="341.6" y1="512" x2="341.6" y2="516.5" stroke="#111" stroke-width="1.3" />
<line x1="72.82" y1="512" x2="72.82" y2="514.5" stroke="#111" stroke-width="1.3" />
<line x1="108.66" y1="512" x2="108.66" y2="514.5" stroke="#111" stroke-width="1.3" />
<line x1="144.49" y1="512" x2="144.49" y2="514.5" stroke="#111" stroke-width="1.3" />
<line x1="180.33" y1="512" x2="180.33" y2="514.5" stroke="#111" stroke-width="1.3" />
<line x1="216.17" y1="512" x2="216.17" y2="514.5" stroke="#111" stroke-width="1.3" />
<line x1="252.01" y1="512" x2="252.01" y2="514.5" stroke="#111" stroke-width="1.3" />
<line x1="287.84" y1="512" x2="287.84" y2="514.5" stroke="#111" stroke-width="1.3" />
<line x1="323.68" y1="512" x2="323.68" y2="514.5" stroke="#111" stroke-width="1.3" />
<text x="0" y="0" font-size="9.9" text-anchor="middle" fill="#111" stroke="#111" stroke-width="0.2" style="font-family:'Liberation Sans',sans-serif;font-weight:bold" transform="translate(54.9,527.2) scale(1,1.15)" >535</text>
<text x="0" y="0" font-size="9.9" text-anchor="middle" fill="#111" stroke="#111" stroke-width="0.2" style="font-family:'Liberation Sans',sans-serif;font-weight:bold" transform="translate(90.74,527.2) scale(1,1.15)" >534</text>
<text x="0" y="0" font-size="9.9" text-anchor="middle" fill="#111" stroke="#111" stroke-width="0.2" style="font-family:'Liberation Sans',sans-serif;font-weight:bold" transform="translate(126.58,527.2) scale(1,1.15)" >533</text>
<text x="0" y="0" font-size="9.9" text-anchor="middle" fill="#111" stroke="#111" stroke-width="0.2" style="font-family:'Liberation Sans',sans-serif;font-weight:bold" transform="translate(162.41,527.2) scale(1,1.15)" >532</text>
<text x="0" y="0" font-size="9.9" text-anchor="middle" fill="#111" stroke="#111" stroke-width="0.2" style="font-family:'Liberation Sans',sans-serif;font-weight:bold" transform="translate(198.25,527.2) scale(1,1.15)" >531</text>
<text x="0" y="0" font-size="9.9" text-anchor="middle" fill="#111" stroke="#111" stroke-width="0.2" style="font-family:'Liberation Sans',sans-serif;font-weight:bold" transform="translate(234.09,527.2) scale(1,1.15)" >530</text>
<text x="0" y="0" font-size="9.9" text-anchor="middle" fill="#111" stroke="#111" stroke-width="0.2" style="font-family:'Liberation Sans',sans-serif;font-weight:bold" transform="translate(269.93,527.2) scale(1,1.15)" >529</text>
<text x="0" y="0" font-size="9.9" text-anchor="middle" fill="#111" stroke="#111" stroke-width="0.2" style="font-family:'Liberation Sans',sans-serif;font-weight:bold" transform="translate(305.76,527.2) scale(1,1.15)" >528</text>
<text x="0" y="0" font-size="9.9" text-anchor="middle" fill="#111" stroke="#111" stroke-width="0.2" style="font-family:'Liberation Sans',sans-serif;font-weight:bold" transform="translate(341.6,527.2) scale(1,1.15)" >527</text>
<line x1="54.9" y1="500.5" x2="50.9" y2="500.5" stroke="#111" stroke-width="1.3" />
<line x1="54.9" y1="472.13" x2="50.9" y2="472.13" stroke="#111" stroke-width="1.3" />
<line x1="54.9" y1="443.76" x2="50.9" y2="443.76" stroke="#111" stroke-width="1.3" />
<line x1="54.9" y1="415.39" x2="50.9" y2="415.39" stroke="#111" stroke-width="1.3" />
<line x1="54.9" y1="387.01" x2="50.9" y2="387.01" stroke="#111" stroke-width="1.3" />
<line x1="54.9" y1="358.64" x2="50.9" y2="358.64" stroke="#111" stroke-width="1.3" />
<line x1="54.9" y1="330.27" x2="50.9" y2="330.27" stroke="#111" stroke-width="1.3" />
<line x1="54.9" y1="301.9" x2="50.9" y2="301.9" stroke="#111" stroke-width="1.3" />
<line x1="54.9" y1="486.31" x2="52.4" y2="486.31" stroke="#111" stroke-width="1.3" />
<line x1="54.9" y1="457.94" x2="52.4" y2="457.94" stroke="#111" stroke-width="1.3" />
<line x1="54.9" y1="429.57" x2="52.4" y2="429.57" stroke="#111" stroke-width="1.3" />
<line x1="54.9" y1="401.2" x2="52.4" y2="401.2" stroke="#111" stroke-width="1.3" />
<line x1="54.9" y1="372.83" x2="52.4" y2="372.83" stroke="#111" stroke-width="1.3" />
<line x1="54.9" y1="344.46" x2="52.4" y2="344.46" stroke="#111" stroke-width="1.3" />
<line x1="54.9" y1="316.09" x2="52.4" y2="316.09" stroke="#111" stroke-width="1.3" />
<line x1="54.9" y1="514.69" x2="52.4" y2="514.69" stroke="#111" stroke-width="1.3" />
<text x="0" y="0" font-size="9.9" text-anchor="end" fill="#111" stroke="#111" stroke-width="0.2" style="font-family:'Liberation Sans',sans-serif;font-weight:bold" transform="translate(47.9,503.58) scale(1,1.15)" >1000</text>
<text x="0" y="0" font-size="9.9" text-anchor="end" fill="#111" stroke="#111" stroke-width="0.2" style="font-family:'Liberation Sans',sans-serif;font-weight:bold" transform="translate(47.9,475.2) scale(1,1.15)" >1500</text>
<text x="0" y="0" font-size="9.9" text-anchor="end" fill="#111" stroke="#111" stroke-width="0.2" style="font-family:'Liberation Sans',sans-serif;font-weight:bold" transform="translate(47.9,446.83) scale(1,1.15)" >2000</text>
<text x="0" y="0" font-size="9.9" text-anchor="end" fill="#111" stroke="#111" stroke-width="0.2" style="font-family:'Liberation Sans',sans-serif;font-weight:bold" transform="translate(47.9,418.46) scale(1,1.15)" >2500</text>
<text x="0" y="0" font-size="9.9" text-anchor="end" fill="#111" stroke="#111" stroke-width="0.2" style="font-family:'Liberation Sans',sans-serif;font-weight:bold" transform="translate(47.9,390.09) scale(1,1.15)" >3000</text>
<text x="0" y="0" font-size="9.9" text-anchor="end" fill="#111" stroke="#111" stroke-width="0.2" style="font-family:'Liberation Sans',sans-serif;font-weight:bold" transform="translate(47.9,361.72) scale(1,1.15)" >3500</text>
<text x="0" y="0" font-size="9.9" text-anchor="end" fill="#111" stroke="#111" stroke-width="0.2" style="font-family:'Liberation Sans',sans-serif;font-weight:bold" transform="translate(47.9,333.35) scale(1,1.15)" >4000</text>
<text x="0" y="0" font-size="9.9" text-anchor="end" fill="#111" stroke="#111" stroke-width="0.2" style="font-family:'Liberation Sans',sans-serif;font-weight:bold" transform="translate(47.9,304.98) scale(1,1.15)" >4500</text>
<text x="0" y="0" font-size="10.3" text-anchor="middle" fill="#111" stroke="#111" stroke-width="0.2" style="font-family:'Liberation Sans',sans-serif;font-weight:bold" transform="translate(198.6,545.4) scale(1,1.15)" >Binding Energy, (eV)</text>
<text x="0" y="0" font-size="10.3" fill="#111" stroke="#111" stroke-width="0.15" style="font-family:'Liberation Sans',sans-serif;font-weight:bold" transform="translate(21.8,470.6) rotate(-90) scale(1.0985,1)">Intensity, (Counts/second)</text>
<text x="0" y="0" font-size="20.9" fill="#111" stroke="#111" stroke-width="0.6" style="font-family:'Liberation Sans',sans-serif;font-weight:bold" transform="translate(16.5,291.7) scale(0.74,1)">c</text>
<text x="0" y="0" font-size="13" text-anchor="start" fill="#1e8a1e" stroke="#1e8a1e" stroke-width="0.35" style="font-family:'Liberation Serif',serif;font-weight:bold" transform="translate(310.8,318.3) scale(1,1.06)" >O 1s</text>
<text x="0" y="0" font-size="10.3" text-anchor="start" fill="#1e8a1e" stroke="#1e8a1e" stroke-width="0.35" style="font-family:'Liberation Serif',serif;font-weight:bold" transform="translate(214,327.3) scale(1,1.06)" >530.34 eV</text>
<text x="0" y="0" font-size="10.1" text-anchor="start" fill="#1e8a1e" stroke="#1e8a1e" stroke-width="0.2" style="font-family:'Liberation Sans',sans-serif;font-weight:bold" transform="translate(149.7,410) scale(1,1.15)" >531.25 eV</text>
<text x="0" y="0" font-size="10.1" text-anchor="start" fill="#1e8a1e" stroke="#1e8a1e" stroke-width="0.2" style="font-family:'Liberation Sans',sans-serif;font-weight:bold" transform="translate(105.6,468) scale(1,1.15)" >533.22 eV</text>
<path d="M420.5,490.1 C421.77,490.22 425,490.87 428.1,490.8 C431.2,490.73 433.98,490 439.1,489.7 C444.22,489.4 454.32,489.03 458.8,489 C463.28,488.97 463.45,489.38 466,489.5 C468.55,489.62 471.28,490.15 474.1,489.7 C476.92,489.25 479.62,487.9 482.9,486.8 C486.18,485.7 490.15,484.7 493.8,483.1 C497.45,481.5 501.15,479.38 504.8,477.2 C508.45,475.02 512.42,472.85 515.7,470 C518.98,467.15 521.58,464.3 524.5,460.1 C527.42,455.9 530.65,450.63 533.2,444.8 C535.75,438.97 537.6,432.03 539.8,425.1 C542,418.17 544.22,410.87 546.4,403.2 C548.58,395.53 550.72,386.77 552.9,379.1 C555.08,371.43 557.22,364.13 559.5,357.2 C561.78,350.27 564.25,342 566.6,337.5 C568.95,333 571.23,330.57 573.6,330.2 C575.97,329.83 578.5,331.17 580.8,335.3 C583.1,339.43 585.4,347.33 587.4,355 C589.4,362.67 590.98,372.53 592.8,381.3 C594.62,390.07 596.47,399.2 598.3,407.6 C600.13,416 601.78,424.03 603.8,431.7 C605.82,439.37 607.85,447.03 610.4,453.6 C612.95,460.17 616.18,466.18 619.1,471.1 C622.02,476.02 624.98,480.12 627.9,483.1 C630.82,486.08 633.32,487.78 636.6,489 C639.88,490.22 643.95,489.73 647.6,490.4 C651.25,491.07 654.85,492.35 658.5,493 C662.15,493.65 666.03,494.2 669.5,494.3 C672.97,494.4 676.72,494.07 679.3,493.6 C681.88,493.13 682.98,492.03 685,491.5 C687.02,490.97 687.9,490.52 691.4,490.4 C694.9,490.28 703.57,490.73 706,490.8" fill="none" stroke="#9a1c1c" stroke-width="1.6" stroke-linejoin="round" stroke-linecap="round" />
<line x1="420" y1="509.5" x2="707.3" y2="509.5" stroke="#111" stroke-width="1.6" />
<line x1="420" y1="298.7" x2="420" y2="510.3" stroke="#111" stroke-width="1.6" />
<line x1="419.2" y1="299.5" x2="707.3" y2="299.5" stroke="#111" stroke-width="1.6" />
<line x1="706.5" y1="299.5" x2="706.5" y2="509.5" stroke="#111" stroke-width="1.6" />
<line x1="420" y1="509.5" x2="420" y2="514" stroke="#111" stroke-width="1.3" />
<line x1="451.83" y1="509.5" x2="451.83" y2="514" stroke="#111" stroke-width="1.3" />
<line x1="483.67" y1="509.5" x2="483.67" y2="514" stroke="#111" stroke-width="1.3" />
<line x1="515.5" y1="509.5" x2="515.5" y2="514" stroke="#111" stroke-width="1.3" />
<line x1="547.33" y1="509.5" x2="547.33" y2="514" stroke="#111" stroke-width="1.3" />
<line x1="579.17" y1="509.5" x2="579.17" y2="514" stroke="#111" stroke-width="1.3" />
<line x1="611" y1="509.5" x2="611" y2="514" stroke="#111" stroke-width="1.3" />
<line x1="642.83" y1="509.5" x2="642.83" y2="514" stroke="#111" stroke-width="1.3" />
<line x1="674.67" y1="509.5" x2="674.67" y2="514" stroke="#111" stroke-width="1.3" />
<line x1="706.5" y1="509.5" x2="706.5" y2="514" stroke="#111" stroke-width="1.3" />
<line x1="435.92" y1="509.5" x2="435.92" y2="512" stroke="#111" stroke-width="1.3" />
<line x1="467.75" y1="509.5" x2="467.75" y2="512" stroke="#111" stroke-width="1.3" />
<line x1="499.58" y1="509.5" x2="499.58" y2="512" stroke="#111" stroke-width="1.3" />
<line x1="531.42" y1="509.5" x2="531.42" y2="512" stroke="#111" stroke-width="1.3" />
<line x1="563.25" y1="509.5" x2="563.25" y2="512" stroke="#111" stroke-width="1.3" />
<line x1="595.08" y1="509.5" x2="595.08" y2="512" stroke="#111" stroke-width="1.3" />
<line x1="626.92" y1="509.5" x2="626.92" y2="512" stroke="#111" stroke-width="1.3" />
<line x1="658.75" y1="509.5" x2="658.75" y2="512" stroke="#111" stroke-width="1.3" />
<line x1="690.58" y1="509.5" x2="690.58" y2="512" stroke="#111" stroke-width="1.3" />
<text x="0" y="0" font-size="9.6" text-anchor="middle" fill="#111" stroke="#111" stroke-width="0.2" style="font-family:'Liberation Sans',sans-serif;font-weight:bold" transform="translate(420,524.4) scale(1,1.15)" >403</text>
<text x="0" y="0" font-size="9.6" text-anchor="middle" fill="#111" stroke="#111" stroke-width="0.2" style="font-family:'Liberation Sans',sans-serif;font-weight:bold" transform="translate(451.83,524.4) scale(1,1.15)" >402</text>
<text x="0" y="0" font-size="9.6" text-anchor="middle" fill="#111" stroke="#111" stroke-width="0.2" style="font-family:'Liberation Sans',sans-serif;font-weight:bold" transform="translate(483.67,524.4) scale(1,1.15)" >401</text>
<text x="0" y="0" font-size="9.6" text-anchor="middle" fill="#111" stroke="#111" stroke-width="0.2" style="font-family:'Liberation Sans',sans-serif;font-weight:bold" transform="translate(515.5,524.4) scale(1,1.15)" >400</text>
<text x="0" y="0" font-size="9.6" text-anchor="middle" fill="#111" stroke="#111" stroke-width="0.2" style="font-family:'Liberation Sans',sans-serif;font-weight:bold" transform="translate(547.33,524.4) scale(1,1.15)" >399</text>
<text x="0" y="0" font-size="9.6" text-anchor="middle" fill="#111" stroke="#111" stroke-width="0.2" style="font-family:'Liberation Sans',sans-serif;font-weight:bold" transform="translate(579.17,524.4) scale(1,1.15)" >398</text>
<text x="0" y="0" font-size="9.6" text-anchor="middle" fill="#111" stroke="#111" stroke-width="0.2" style="font-family:'Liberation Sans',sans-serif;font-weight:bold" transform="translate(611,524.4) scale(1,1.15)" >397</text>
<text x="0" y="0" font-size="9.6" text-anchor="middle" fill="#111" stroke="#111" stroke-width="0.2" style="font-family:'Liberation Sans',sans-serif;font-weight:bold" transform="translate(642.83,524.4) scale(1,1.15)" >396</text>
<text x="0" y="0" font-size="9.6" text-anchor="middle" fill="#111" stroke="#111" stroke-width="0.2" style="font-family:'Liberation Sans',sans-serif;font-weight:bold" transform="translate(674.67,524.4) scale(1,1.15)" >395</text>
<text x="0" y="0" font-size="9.6" text-anchor="middle" fill="#111" stroke="#111" stroke-width="0.2" style="font-family:'Liberation Sans',sans-serif;font-weight:bold" transform="translate(706.5,524.4) scale(1,1.15)" >394</text>
<line x1="420" y1="509.5" x2="416" y2="509.5" stroke="#111" stroke-width="1.3" />
<line x1="420" y1="483.25" x2="416" y2="483.25" stroke="#111" stroke-width="1.3" />
<line x1="420" y1="457" x2="416" y2="457" stroke="#111" stroke-width="1.3" />
<line x1="420" y1="430.75" x2="416" y2="430.75" stroke="#111" stroke-width="1.3" />
<line x1="420" y1="404.5" x2="416" y2="404.5" stroke="#111" stroke-width="1.3" />
<line x1="420" y1="378.25" x2="416" y2="378.25" stroke="#111" stroke-width="1.3" />
<line x1="420" y1="352" x2="416" y2="352" stroke="#111" stroke-width="1.3" />
<line x1="420" y1="325.75" x2="416" y2="325.75" stroke="#111" stroke-width="1.3" />
<line x1="420" y1="299.5" x2="416" y2="299.5" stroke="#111" stroke-width="1.3" />
<line x1="420" y1="496.38" x2="417.5" y2="496.38" stroke="#111" stroke-width="1.3" />
<line x1="420" y1="470.12" x2="417.5" y2="470.12" stroke="#111" stroke-width="1.3" />
<line x1="420" y1="443.88" x2="417.5" y2="443.88" stroke="#111" stroke-width="1.3" />
<line x1="420" y1="417.62" x2="417.5" y2="417.62" stroke="#111" stroke-width="1.3" />
<line x1="420" y1="391.38" x2="417.5" y2="391.38" stroke="#111" stroke-width="1.3" />
<line x1="420" y1="365.12" x2="417.5" y2="365.12" stroke="#111" stroke-width="1.3" />
<line x1="420" y1="338.88" x2="417.5" y2="338.88" stroke="#111" stroke-width="1.3" />
<line x1="420" y1="312.62" x2="417.5" y2="312.62" stroke="#111" stroke-width="1.3" />
<text x="0" y="0" font-size="9.6" text-anchor="end" fill="#111" stroke="#111" stroke-width="0.2" style="font-family:'Liberation Sans',sans-serif;font-weight:bold" transform="translate(412.3,512.45) scale(1,1.15)" >400</text>
<text x="0" y="0" font-size="9.6" text-anchor="end" fill="#111" stroke="#111" stroke-width="0.2" style="font-family:'Liberation Sans',sans-serif;font-weight:bold" transform="translate(412.3,486.2) scale(1,1.15)" >500</text>
<text x="0" y="0" font-size="9.6" text-anchor="end" fill="#111" stroke="#111" stroke-width="0.2" style="font-family:'Liberation Sans',sans-serif;font-weight:bold" transform="translate(412.3,459.95) scale(1,1.15)" >600</text>
<text x="0" y="0" font-size="9.6" text-anchor="end" fill="#111" stroke="#111" stroke-width="0.2" style="font-family:'Liberation Sans',sans-serif;font-weight:bold" transform="translate(412.3,433.7) scale(1,1.15)" >700</text>
<text x="0" y="0" font-size="9.6" text-anchor="end" fill="#111" stroke="#111" stroke-width="0.2" style="font-family:'Liberation Sans',sans-serif;font-weight:bold" transform="translate(412.3,407.45) scale(1,1.15)" >800</text>
<text x="0" y="0" font-size="9.6" text-anchor="end" fill="#111" stroke="#111" stroke-width="0.2" style="font-family:'Liberation Sans',sans-serif;font-weight:bold" transform="translate(412.3,381.2) scale(1,1.15)" >900</text>
<text x="0" y="0" font-size="9.6" text-anchor="end" fill="#111" stroke="#111" stroke-width="0.2" style="font-family:'Liberation Sans',sans-serif;font-weight:bold" transform="translate(412.3,354.95) scale(1,1.15)" >1000</text>
<text x="0" y="0" font-size="9.6" text-anchor="end" fill="#111" stroke="#111" stroke-width="0.2" style="font-family:'Liberation Sans',sans-serif;font-weight:bold" transform="translate(412.3,328.7) scale(1,1.15)" >1100</text>
<text x="0" y="0" font-size="9.6" text-anchor="end" fill="#111" stroke="#111" stroke-width="0.2" style="font-family:'Liberation Sans',sans-serif;font-weight:bold" transform="translate(412.3,302.45) scale(1,1.15)" >1200</text>
<text x="0" y="0" font-size="10.3" text-anchor="middle" fill="#111" stroke="#111" stroke-width="0.2" style="font-family:'Liberation Sans',sans-serif;font-weight:bold" transform="translate(563.1,543) scale(1,1.15)" >Binding Energy, (eV)</text>
<text x="0" y="0" font-size="10.3" fill="#111" stroke="#111" stroke-width="0.15" style="font-family:'Liberation Sans',sans-serif;font-weight:bold" transform="translate(388.5,467.6) rotate(-90) scale(1.0969,1)">Intensity, (Counts/second)</text>
<text x="0" y="0" font-size="21.8" fill="#111" stroke="#111" stroke-width="0.6" style="font-family:'Liberation Sans',sans-serif;font-weight:bold" transform="translate(374.6,304.8) scale(0.77,1)">d</text>
<text x="0" y="0" font-size="12.6" text-anchor="start" fill="#9a1c1c" stroke="#9a1c1c" stroke-width="0.35" style="font-family:'Liberation Serif',serif;font-weight:bold" transform="translate(678,315) scale(1,1.06)" >N 1s</text>
<text x="0" y="0" font-size="10.5" text-anchor="start" fill="#9a1c1c" stroke="#9a1c1c" stroke-width="0.35" style="font-family:'Liberation Serif',serif;font-weight:bold" transform="translate(556,319.5) scale(1,1.06)" >398.16 eV</text>
<path d="M52.5,748.2 C53.92,748.08 57.77,748.08 61,747.5 C64.23,746.92 68.62,745.07 71.9,744.7 C75.18,744.33 77.78,745.48 80.7,745.3 C83.62,745.12 85.75,744 89.4,743.6 C93.05,743.2 98.22,743.08 102.6,742.9 C106.98,742.72 112.42,742.93 115.7,742.5 C118.98,742.07 120.12,741.65 122.3,740.3 C124.48,738.95 126.25,736.85 128.8,734.4 C131.35,731.95 134.68,729.07 137.6,725.6 C140.52,722.13 143.75,717.25 146.3,713.6 C148.85,709.95 150.78,706.05 152.9,703.7 C155.02,701.35 156.82,699.32 159,699.5 C161.18,699.68 163.37,701.37 166,704.8 C168.63,708.23 171.87,715.35 174.8,720.1 C177.73,724.85 181.05,730.67 183.6,733.3 C186.15,735.93 187.57,736.63 190.1,735.9 C192.63,735.17 195.9,732.98 198.8,728.9 C201.7,724.82 204.58,717.6 207.5,711.4 C210.42,705.2 213.75,698.27 216.3,691.7 C218.85,685.13 220.62,680.4 222.8,672 C224.98,663.6 227.2,650.43 229.4,641.3 C231.6,632.17 233.8,624.13 236,617.2 C238.2,610.27 240.6,603.38 242.6,599.7 C244.6,596.02 246.18,594.73 248,595.1 C249.82,595.47 251.85,597.12 253.5,601.9 C255.15,606.68 256.43,615.77 257.9,623.8 C259.37,631.83 260.85,640.98 262.3,650.1 C263.75,659.22 265.15,669.38 266.6,678.5 C268.05,687.62 269.53,696.77 271,704.8 C272.47,712.83 273.57,720.13 275.4,726.7 C277.23,733.27 279.45,739.45 282,744.2 C284.55,748.95 287.05,753 290.7,755.2 C294.35,757.4 298.78,756.97 303.9,757.4 C309.02,757.83 315.72,757.52 321.4,757.8 C327.08,758.08 335.23,758.88 338,759.1" fill="none" stroke="#1a1aff" stroke-width="1.7" stroke-linejoin="round" stroke-linecap="round" />
<line x1="51.9" y1="775.6" x2="339.5" y2="775.6" stroke="#111" stroke-width="1.6" />
<line x1="51.9" y1="564.6" x2="51.9" y2="776.4" stroke="#111" stroke-width="1.6" />
<line x1="51.1" y1="565.4" x2="339.5" y2="565.4" stroke="#111" stroke-width="1.6" />
<line x1="338.7" y1="565.4" x2="338.7" y2="775.6" stroke="#111" stroke-width="1.6" />
<line x1="51.9" y1="775.6" x2="51.9" y2="780.1" stroke="#111" stroke-width="1.3" />
<line x1="75.8" y1="775.6" x2="75.8" y2="780.1" stroke="#111" stroke-width="1.3" />
<line x1="99.7" y1="775.6" x2="99.7" y2="780.1" stroke="#111" stroke-width="1.3" />
<line x1="123.6" y1="775.6" x2="123.6" y2="780.1" stroke="#111" stroke-width="1.3" />
<line x1="147.5" y1="775.6" x2="147.5" y2="780.1" stroke="#111" stroke-width="1.3" />
<line x1="171.4" y1="775.6" x2="171.4" y2="780.1" stroke="#111" stroke-width="1.3" />
<line x1="195.3" y1="775.6" x2="195.3" y2="780.1" stroke="#111" stroke-width="1.3" />
<line x1="219.2" y1="775.6" x2="219.2" y2="780.1" stroke="#111" stroke-width="1.3" />
<line x1="243.1" y1="775.6" x2="243.1" y2="780.1" stroke="#111" stroke-width="1.3" />
<line x1="267" y1="775.6" x2="267" y2="780.1" stroke="#111" stroke-width="1.3" />
<line x1="290.9" y1="775.6" x2="290.9" y2="780.1" stroke="#111" stroke-width="1.3" />
<line x1="314.8" y1="775.6" x2="314.8" y2="780.1" stroke="#111" stroke-width="1.3" />
<line x1="338.7" y1="775.6" x2="338.7" y2="780.1" stroke="#111" stroke-width="1.3" />
<line x1="63.85" y1="775.6" x2="63.85" y2="778.1" stroke="#111" stroke-width="1.3" />
<line x1="87.75" y1="775.6" x2="87.75" y2="778.1" stroke="#111" stroke-width="1.3" />
<line x1="111.65" y1="775.6" x2="111.65" y2="778.1" stroke="#111" stroke-width="1.3" />
<line x1="135.55" y1="775.6" x2="135.55" y2="778.1" stroke="#111" stroke-width="1.3" />
<line x1="159.45" y1="775.6" x2="159.45" y2="778.1" stroke="#111" stroke-width="1.3" />
<line x1="183.35" y1="775.6" x2="183.35" y2="778.1" stroke="#111" stroke-width="1.3" />
<line x1="207.25" y1="775.6" x2="207.25" y2="778.1" stroke="#111" stroke-width="1.3" />
<line x1="231.15" y1="775.6" x2="231.15" y2="778.1" stroke="#111" stroke-width="1.3" />
<line x1="255.05" y1="775.6" x2="255.05" y2="778.1" stroke="#111" stroke-width="1.3" />
<line x1="278.95" y1="775.6" x2="278.95" y2="778.1" stroke="#111" stroke-width="1.3" />
<line x1="302.85" y1="775.6" x2="302.85" y2="778.1" stroke="#111" stroke-width="1.3" />
<line x1="326.75" y1="775.6" x2="326.75" y2="778.1" stroke="#111" stroke-width="1.3" />
<text x="0" y="0" font-size="9.9" text-anchor="middle" fill="#111" stroke="#111" stroke-width="0.2" style="font-family:'Liberation Sans',sans-serif;font-weight:bold" transform="translate(51.9,790.8) scale(1,1.15)" >291</text>
<text x="0" y="0" font-size="9.9" text-anchor="middle" fill="#111" stroke="#111" stroke-width="0.2" style="font-family:'Liberation Sans',sans-serif;font-weight:bold" transform="translate(75.8,790.8) scale(1,1.15)" >290</text>
<text x="0" y="0" font-size="9.9" text-anchor="middle" fill="#111" stroke="#111" stroke-width="0.2" style="font-family:'Liberation Sans',sans-serif;font-weight:bold" transform="translate(99.7,790.8) scale(1,1.15)" >289</text>
<text x="0" y="0" font-size="9.9" text-anchor="middle" fill="#111" stroke="#111" stroke-width="0.2" style="font-family:'Liberation Sans',sans-serif;font-weight:bold" transform="translate(123.6,790.8) scale(1,1.15)" >288</text>
<text x="0" y="0" font-size="9.9" text-anchor="middle" fill="#111" stroke="#111" stroke-width="0.2" style="font-family:'Liberation Sans',sans-serif;font-weight:bold" transform="translate(147.5,790.8) scale(1,1.15)" >287</text>
<text x="0" y="0" font-size="9.9" text-anchor="middle" fill="#111" stroke="#111" stroke-width="0.2" style="font-family:'Liberation Sans',sans-serif;font-weight:bold" transform="translate(171.4,790.8) scale(1,1.15)" >286</text>
<text x="0" y="0" font-size="9.9" text-anchor="middle" fill="#111" stroke="#111" stroke-width="0.2" style="font-family:'Liberation Sans',sans-serif;font-weight:bold" transform="translate(195.3,790.8) scale(1,1.15)" >285</text>
<text x="0" y="0" font-size="9.9" text-anchor="middle" fill="#111" stroke="#111" stroke-width="0.2" style="font-family:'Liberation Sans',sans-serif;font-weight:bold" transform="translate(219.2,790.8) scale(1,1.15)" >284</text>
<text x="0" y="0" font-size="9.9" text-anchor="middle" fill="#111" stroke="#111" stroke-width="0.2" style="font-family:'Liberation Sans',sans-serif;font-weight:bold" transform="translate(243.1,790.8) scale(1,1.15)" >283</text>
<text x="0" y="0" font-size="9.9" text-anchor="middle" fill="#111" stroke="#111" stroke-width="0.2" style="font-family:'Liberation Sans',sans-serif;font-weight:bold" transform="translate(267,790.8) scale(1,1.15)" >282</text>
<text x="0" y="0" font-size="9.9" text-anchor="middle" fill="#111" stroke="#111" stroke-width="0.2" style="font-family:'Liberation Sans',sans-serif;font-weight:bold" transform="translate(290.9,790.8) scale(1,1.15)" >281</text>
<text x="0" y="0" font-size="9.9" text-anchor="middle" fill="#111" stroke="#111" stroke-width="0.2" style="font-family:'Liberation Sans',sans-serif;font-weight:bold" transform="translate(314.8,790.8) scale(1,1.15)" >280</text>
<text x="0" y="0" font-size="9.9" text-anchor="middle" fill="#111" stroke="#111" stroke-width="0.2" style="font-family:'Liberation Sans',sans-serif;font-weight:bold" transform="translate(338.7,790.8) scale(1,1.15)" >279</text>
<line x1="51.9" y1="775.6" x2="47.9" y2="775.6" stroke="#111" stroke-width="1.3" />
<line x1="51.9" y1="745.6" x2="47.9" y2="745.6" stroke="#111" stroke-width="1.3" />
<line x1="51.9" y1="715.6" x2="47.9" y2="715.6" stroke="#111" stroke-width="1.3" />
<line x1="51.9" y1="685.6" x2="47.9" y2="685.6" stroke="#111" stroke-width="1.3" />
<line x1="51.9" y1="655.6" x2="47.9" y2="655.6" stroke="#111" stroke-width="1.3" />
<line x1="51.9" y1="625.6" x2="47.9" y2="625.6" stroke="#111" stroke-width="1.3" />
<line x1="51.9" y1="595.6" x2="47.9" y2="595.6" stroke="#111" stroke-width="1.3" />
<line x1="51.9" y1="565.6" x2="47.9" y2="565.6" stroke="#111" stroke-width="1.3" />
<line x1="51.9" y1="760.6" x2="49.4" y2="760.6" stroke="#111" stroke-width="1.3" />
<line x1="51.9" y1="730.6" x2="49.4" y2="730.6" stroke="#111" stroke-width="1.3" />
<line x1="51.9" y1="700.6" x2="49.4" y2="700.6" stroke="#111" stroke-width="1.3" />
<line x1="51.9" y1="670.6" x2="49.4" y2="670.6" stroke="#111" stroke-width="1.3" />
<line x1="51.9" y1="640.6" x2="49.4" y2="640.6" stroke="#111" stroke-width="1.3" />
<line x1="51.9" y1="610.6" x2="49.4" y2="610.6" stroke="#111" stroke-width="1.3" />
<line x1="51.9" y1="580.6" x2="49.4" y2="580.6" stroke="#111" stroke-width="1.3" />
<text x="0" y="0" font-size="9.9" text-anchor="end" fill="#111" stroke="#111" stroke-width="0.2" style="font-family:'Liberation Sans',sans-serif;font-weight:bold" transform="translate(44,778.68) scale(1,1.15)" >0</text>
<text x="0" y="0" font-size="9.9" text-anchor="end" fill="#111" stroke="#111" stroke-width="0.2" style="font-family:'Liberation Sans',sans-serif;font-weight:bold" transform="translate(44,748.68) scale(1,1.15)" >400</text>
<text x="0" y="0" font-size="9.9" text-anchor="end" fill="#111" stroke="#111" stroke-width="0.2" style="font-family:'Liberation Sans',sans-serif;font-weight:bold" transform="translate(44,718.68) scale(1,1.15)" >800</text>
<text x="0" y="0" font-size="9.9" text-anchor="end" fill="#111" stroke="#111" stroke-width="0.2" style="font-family:'Liberation Sans',sans-serif;font-weight:bold" transform="translate(44,688.68) scale(1,1.15)" >1200</text>
<text x="0" y="0" font-size="9.9" text-anchor="end" fill="#111" stroke="#111" stroke-width="0.2" style="font-family:'Liberation Sans',sans-serif;font-weight:bold" transform="translate(44,658.68) scale(1,1.15)" >1600</text>
<text x="0" y="0" font-size="9.9" text-anchor="end" fill="#111" stroke="#111" stroke-width="0.2" style="font-family:'Liberation Sans',sans-serif;font-weight:bold" transform="translate(44,628.68) scale(1,1.15)" >2000</text>
<text x="0" y="0" font-size="9.9" text-anchor="end" fill="#111" stroke="#111" stroke-width="0.2" style="font-family:'Liberation Sans',sans-serif;font-weight:bold" transform="translate(44,598.68) scale(1,1.15)" >2400</text>
<text x="0" y="0" font-size="9.9" text-anchor="end" fill="#111" stroke="#111" stroke-width="0.2" style="font-family:'Liberation Sans',sans-serif;font-weight:bold" transform="translate(44,568.68) scale(1,1.15)" >2800</text>
<text x="0" y="0" font-size="10.3" text-anchor="middle" fill="#111" stroke="#111" stroke-width="0.2" style="font-family:'Liberation Sans',sans-serif;font-weight:bold" transform="translate(195.3,808.8) scale(1,1.15)" >Binding Energy, (eV)</text>
<text x="0" y="0" font-size="10.3" fill="#111" stroke="#111" stroke-width="0.15" style="font-family:'Liberation Sans',sans-serif;font-weight:bold" transform="translate(17.4,734.8) rotate(-90) scale(1.1078,1)">Intensity, (Counts/second)</text>
<text x="0" y="0" font-size="21.8" fill="#111" stroke="#111" stroke-width="0.6" style="font-family:'Liberation Sans',sans-serif;font-weight:bold" transform="translate(16.0,550.6) scale(0.87,1)">e</text>
<text x="0" y="0" font-size="12.9" text-anchor="start" fill="#1a1aff" stroke="#1a1aff" stroke-width="0.35" style="font-family:'Liberation Serif',serif;font-weight:bold" transform="translate(306.7,583) scale(1,1.06)" >C 1s</text>
<text x="0" y="0" font-size="10.5" text-anchor="start" fill="#1a1aff" stroke="#1a1aff" stroke-width="0.35" style="font-family:'Liberation Serif',serif;font-weight:bold" transform="translate(228.4,589) scale(1,1.06)" >282.85 eV</text>
<text x="0" y="0" font-size="10.1" text-anchor="start" fill="#1a1aff" stroke="#1a1aff" stroke-width="0.35" style="font-family:'Liberation Serif',serif;font-weight:bold" transform="translate(143.7,693) scale(1,1.06)" >286.52 eV</text>
<text x="0" y="0" font-size="10.2" text-anchor="start" fill="#1a1aff" stroke="#1a1aff" stroke-width="0.2" style="font-family:'Liberation Sans',sans-serif;font-weight:bold" transform="translate(67.5,738) scale(1,1.15)" >289.59 eV</text>
<line x1="408" y1="586.6" x2="475.6" y2="586.6" stroke="#ff2020" stroke-width="0.9" />
<line x1="408" y1="583" x2="408" y2="590" stroke="#ff2020" stroke-width="0.8" />
<line x1="445.4" y1="583.5" x2="445.4" y2="592" stroke="#ff2020" stroke-width="0.8" />
<line x1="473.2" y1="602" x2="473.2" y2="590" stroke="#ff2020" stroke-width="0.9" />
<path d="M471.3,591.5 L473.2,587.3 L475.1,591.5 Z" fill="#ff2020"/>
<line x1="533" y1="603" x2="607" y2="603" stroke="#ffb0b0" stroke-width="0.8" />
<path d="M593.8,607.8 L595,603.8 L596.2,607.8 Z" fill="#ff2020"/>
<line x1="447" y1="665.8" x2="492" y2="659.5" stroke="#ff2020" stroke-width="0.9" stroke-dasharray="3,2"/>
<line x1="447" y1="660" x2="447" y2="676" stroke="#ff2020" stroke-width="0.8" />
<line x1="464.4" y1="690" x2="464.4" y2="702" stroke="#ff2020" stroke-width="0.7" />
<line x1="534.7" y1="669.6" x2="577" y2="689.6" stroke="#ff2020" stroke-width="0.8" />
<line x1="535.8" y1="663.5" x2="535.8" y2="676" stroke="#ff2020" stroke-width="0.8" stroke-dasharray="2,1.3"/>
<line x1="555.4" y1="712.4" x2="555.4" y2="723.1" stroke="#ff2020" stroke-width="0.8" />
<line x1="594" y1="693.5" x2="627" y2="714.5" stroke="#ff2020" stroke-width="0.8" />
<line x1="594.1" y1="697.9" x2="600.7" y2="688.3" stroke="#ff2020" stroke-width="0.8" />
<line x1="611.7" y1="712.2" x2="616.5" y2="707.4" stroke="#ff2020" stroke-width="0.7" />
<line x1="576.2" y1="684.5" x2="576.2" y2="693.1" stroke="#ff2020" stroke-width="0.7" />
<line x1="592.5" y1="711.3" x2="684" y2="711.3" stroke="#ff2020" stroke-width="0.9" />
<line x1="626.5" y1="713" x2="626.5" y2="723" stroke="#ff2020" stroke-width="0.8" />
<line x1="681.7" y1="758" x2="681.7" y2="716" stroke="#ff5a5a" stroke-width="0.75" />
<path d="M679.9,717 L681.7,712.6 L683.5,717 Z" fill="#ff2020"/>
<path d="M406.5,586.4 C408.75,586.45 413.58,586.5 420,586.7 C426.42,586.9 439.5,587.12 445,587.6 C450.5,588.08 450.92,588.7 453,589.6 C455.08,590.5 456.12,591.8 457.5,593 C458.88,594.2 460.05,595.63 461.3,596.8 C462.55,597.97 463.98,599.22 465,600 C466.02,600.78 466.23,601.13 467.4,601.5 C468.57,601.87 469.62,602.05 472,602.2 C474.38,602.35 477.03,602.27 481.7,602.4 C486.37,602.53 493.18,602.73 500,603 C506.82,603.27 517.6,603.67 522.6,604 C527.6,604.33 527.95,604.57 530,605 C532.05,605.43 533.35,605.88 534.9,606.6 C536.45,607.32 537.95,608.15 539.3,609.3 C540.65,610.45 541.85,611.18 543,613.5 C544.15,615.82 544.9,618.78 546.2,623.2 C547.5,627.62 549.23,634.62 550.8,640 C552.37,645.38 554.38,651.22 555.6,655.5 C556.82,659.78 557.2,662.53 558.1,665.7 C559,668.87 559.7,671.75 561,674.5 C562.3,677.25 564.12,679.93 565.9,682.2 C567.68,684.47 570.18,686.6 571.7,688.1 C573.22,689.6 572.93,688.62 575,691.2 C577.07,693.78 581.48,700.42 584.1,703.6 C586.72,706.78 588.32,708.23 590.7,710.3 C593.08,712.37 595.85,713.78 598.4,716 C600.95,718.22 603.4,721.02 606,723.6 C608.6,726.18 611.23,728.8 614,731.5 C616.77,734.2 620.1,737.58 622.6,739.8 C625.1,742.02 626.68,743.3 629,744.8 C631.32,746.3 633.83,747.67 636.5,748.8 C639.17,749.93 641.92,750.78 645,751.6 C648.08,752.42 651.83,753.03 655,753.7 C658.17,754.37 660.9,755.02 664,755.6 C667.1,756.18 670.6,756.73 673.6,757.2 C676.6,757.67 679.3,758.02 682,758.4 C684.7,758.78 688.5,759.32 689.8,759.5" fill="none" stroke="#111" stroke-width="1.6" stroke-linejoin="round" stroke-linecap="round" />
<path d="M406.6,713 C406.7,711.67 406.87,708.05 407.2,705 C407.53,701.95 408.13,697.87 408.6,694.7 C409.07,691.53 409.38,688.38 410,686 C410.62,683.62 411.3,682.15 412.3,680.4 C413.3,678.65 414.65,676.85 416,675.5 C417.35,674.15 417.95,673.35 420.4,672.3 C422.85,671.25 427.43,670.03 430.7,669.2 C433.97,668.37 437.28,667.82 440,667.3 C442.72,666.78 445.25,665.98 447,666.1 C448.75,666.22 449.48,666.97 450.5,668 C451.52,669.03 452.18,670.3 453.1,672.3 C454.02,674.3 454.97,677.28 456,680 C457.03,682.72 458.3,686.18 459.3,688.6 C460.3,691.02 461.15,693.17 462,694.5 C462.85,695.83 463.57,696.68 464.4,696.6 C465.23,696.52 466.15,695.67 467,694 C467.85,692.33 468.58,689.43 469.5,686.6 C470.42,683.77 471.48,679.9 472.5,677 C473.52,674.1 474.35,671.37 475.6,669.2 C476.85,667.03 478.3,665.37 480,664 C481.7,662.63 483.47,661.73 485.8,661 C488.13,660.27 491.27,659.83 494,659.6 C496.73,659.37 499.2,659.45 502.2,659.6 C505.2,659.75 508.6,659.85 512,660.5 C515.4,661.15 519.77,662.53 522.6,663.5 C525.43,664.47 526.98,665.28 529,666.3 C531.02,667.32 532.93,668.23 534.7,669.6 C536.47,670.97 538.13,672.23 539.6,674.5 C541.07,676.77 542.37,679.97 543.5,683.2 C544.63,686.43 545.43,690 546.4,693.9 C547.37,697.8 548.4,703.03 549.3,706.6 C550.2,710.17 550.98,713.28 551.8,715.3 C552.62,717.32 553.48,718.08 554.2,718.7 C554.92,719.32 555.37,719.23 556.1,719 C556.83,718.77 557.78,718.73 558.6,717.3 C559.42,715.87 560.12,713.17 561,710.4 C561.88,707.63 562.93,703.53 563.9,700.7 C564.87,697.87 565.83,695.18 566.8,693.4 C567.77,691.62 568.33,690.8 569.7,690 C571.07,689.2 572.92,689.03 575,688.6 C577.08,688.17 579.58,687.12 582.2,687.4 C584.82,687.68 588.32,689.03 590.7,690.3 C593.08,691.57 594.43,692.95 596.5,695 C598.57,697.05 600.72,700.05 603.1,702.6 C605.48,705.15 608.73,708.23 610.8,710.3 C612.87,712.37 613.92,713.73 615.5,715 C617.08,716.27 618.87,717.73 620.3,717.9 C621.73,718.07 622.83,716.23 624.1,716 C625.37,715.77 626.58,716 627.9,716.5 C629.22,717 630.32,717.83 632,719 C633.68,720.17 636.08,721.77 638,723.5 C639.92,725.23 641.83,727.48 643.5,729.4 C645.17,731.32 646.47,733.07 648,735 C649.53,736.93 651.2,739.08 652.7,741 C654.2,742.92 655.45,744.58 657,746.5 C658.55,748.42 660.58,750.92 662,752.5 C663.42,754.08 664.33,755.03 665.5,756 C666.67,756.97 668.03,757.67 669,758.3 C669.97,758.93 670.6,759.72 671.3,759.8 C672,759.88 672.63,759.6 673.2,758.8 C673.77,758 674.07,755.85 674.7,755 C675.33,754.15 676.03,753.92 677,753.7 C677.97,753.48 679.17,753.65 680.5,753.7 C681.83,753.75 683.45,753.82 685,754 C686.55,754.18 689,754.67 689.8,754.8" fill="none" stroke="#1414ff" stroke-width="1.9" stroke-linejoin="round" stroke-linecap="round" />
<line x1="405.9" y1="776" x2="692.6" y2="776" stroke="#111" stroke-width="1.6" />
<line x1="405.9" y1="564.8" x2="405.9" y2="776.8" stroke="#111" stroke-width="1.6" />
<line x1="405.9" y1="565.6" x2="692.6" y2="565.6" stroke="#111" stroke-width="1.5" />
<line x1="692.8" y1="564.9" x2="692.8" y2="777" stroke="#1414ff" stroke-width="2.4" />
<line x1="426.62" y1="776" x2="426.62" y2="780.5" stroke="#111" stroke-width="1.3" />
<line x1="456.22" y1="776" x2="456.22" y2="780.5" stroke="#111" stroke-width="1.3" />
<line x1="485.81" y1="776" x2="485.81" y2="780.5" stroke="#111" stroke-width="1.3" />
<line x1="515.41" y1="776" x2="515.41" y2="780.5" stroke="#111" stroke-width="1.3" />
<line x1="545.01" y1="776" x2="545.01" y2="780.5" stroke="#111" stroke-width="1.3" />
<line x1="574.61" y1="776" x2="574.61" y2="780.5" stroke="#111" stroke-width="1.3" />
<line x1="604.21" y1="776" x2="604.21" y2="780.5" stroke="#111" stroke-width="1.3" />
<line x1="633.8" y1="776" x2="633.8" y2="780.5" stroke="#111" stroke-width="1.3" />
<line x1="663.4" y1="776" x2="663.4" y2="780.5" stroke="#111" stroke-width="1.3" />
<line x1="693" y1="776" x2="693" y2="780.5" stroke="#111" stroke-width="1.3" />
<line x1="411.82" y1="776" x2="411.82" y2="778.5" stroke="#111" stroke-width="1.3" />
<line x1="441.42" y1="776" x2="441.42" y2="778.5" stroke="#111" stroke-width="1.3" />
<line x1="471.02" y1="776" x2="471.02" y2="778.5" stroke="#111" stroke-width="1.3" />
<line x1="500.61" y1="776" x2="500.61" y2="778.5" stroke="#111" stroke-width="1.3" />
<line x1="530.21" y1="776" x2="530.21" y2="778.5" stroke="#111" stroke-width="1.3" />
<line x1="559.81" y1="776" x2="559.81" y2="778.5" stroke="#111" stroke-width="1.3" />
<line x1="589.41" y1="776" x2="589.41" y2="778.5" stroke="#111" stroke-width="1.3" />
<line x1="619.01" y1="776" x2="619.01" y2="778.5" stroke="#111" stroke-width="1.3" />
<line x1="648.6" y1="776" x2="648.6" y2="778.5" stroke="#111" stroke-width="1.3" />
<line x1="678.2" y1="776" x2="678.2" y2="778.5" stroke="#111" stroke-width="1.3" />
<text x="0" y="0" font-size="9.9" text-anchor="middle" fill="#111" stroke="#111" stroke-width="0.2" style="font-family:'Liberation Sans',sans-serif;font-weight:bold" transform="translate(426.62,791.2) scale(1,1.15)" >100</text>
<text x="0" y="0" font-size="9.9" text-anchor="middle" fill="#111" stroke="#111" stroke-width="0.2" style="font-family:'Liberation Sans',sans-serif;font-weight:bold" transform="translate(456.22,791.2) scale(1,1.15)" >200</text>
<text x="0" y="0" font-size="9.9" text-anchor="middle" fill="#111" stroke="#111" stroke-width="0.2" style="font-family:'Liberation Sans',sans-serif;font-weight:bold" transform="translate(485.81,791.2) scale(1,1.15)" >300</text>
<text x="0" y="0" font-size="9.9" text-anchor="middle" fill="#111" stroke="#111" stroke-width="0.2" style="font-family:'Liberation Sans',sans-serif;font-weight:bold" transform="translate(515.41,791.2) scale(1,1.15)" >400</text>
<text x="0" y="0" font-size="9.9" text-anchor="middle" fill="#111" stroke="#111" stroke-width="0.2" style="font-family:'Liberation Sans',sans-serif;font-weight:bold" transform="translate(545.01,791.2) scale(1,1.15)" >500</text>
<text x="0" y="0" font-size="9.9" text-anchor="middle" fill="#111" stroke="#111" stroke-width="0.2" style="font-family:'Liberation Sans',sans-serif;font-weight:bold" transform="translate(574.61,791.2) scale(1,1.15)" >600</text>
<text x="0" y="0" font-size="9.9" text-anchor="middle" fill="#111" stroke="#111" stroke-width="0.2" style="font-family:'Liberation Sans',sans-serif;font-weight:bold" transform="translate(604.21,791.2) scale(1,1.15)" >700</text>
<text x="0" y="0" font-size="9.9" text-anchor="middle" fill="#111" stroke="#111" stroke-width="0.2" style="font-family:'Liberation Sans',sans-serif;font-weight:bold" transform="translate(633.8,791.2) scale(1,1.15)" >800</text>
<text x="0" y="0" font-size="9.9" text-anchor="middle" fill="#111" stroke="#111" stroke-width="0.2" style="font-family:'Liberation Sans',sans-serif;font-weight:bold" transform="translate(663.4,791.2) scale(1,1.15)" >900</text>
<text x="0" y="0" font-size="9.9" text-anchor="middle" fill="#111" stroke="#111" stroke-width="0.2" style="font-family:'Liberation Sans',sans-serif;font-weight:bold" transform="translate(693,791.2) scale(1,1.15)" >1000</text>
<line x1="405.9" y1="776" x2="401.9" y2="776" stroke="#111" stroke-width="1.3" />
<line x1="405.9" y1="754.96" x2="401.9" y2="754.96" stroke="#111" stroke-width="1.3" />
<line x1="405.9" y1="733.92" x2="401.9" y2="733.92" stroke="#111" stroke-width="1.3" />
<line x1="405.9" y1="712.88" x2="401.9" y2="712.88" stroke="#111" stroke-width="1.3" />
<line x1="405.9" y1="691.84" x2="401.9" y2="691.84" stroke="#111" stroke-width="1.3" />
<line x1="405.9" y1="670.8" x2="401.9" y2="670.8" stroke="#111" stroke-width="1.3" />
<line x1="405.9" y1="649.76" x2="401.9" y2="649.76" stroke="#111" stroke-width="1.3" />
<line x1="405.9" y1="628.72" x2="401.9" y2="628.72" stroke="#111" stroke-width="1.3" />
<line x1="405.9" y1="607.68" x2="401.9" y2="607.68" stroke="#111" stroke-width="1.3" />
<line x1="405.9" y1="586.64" x2="401.9" y2="586.64" stroke="#111" stroke-width="1.3" />
<line x1="405.9" y1="565.6" x2="401.9" y2="565.6" stroke="#111" stroke-width="1.3" />
<line x1="405.9" y1="765.48" x2="403.4" y2="765.48" stroke="#111" stroke-width="1.3" />
<line x1="405.9" y1="744.44" x2="403.4" y2="744.44" stroke="#111" stroke-width="1.3" />
<line x1="405.9" y1="723.4" x2="403.4" y2="723.4" stroke="#111" stroke-width="1.3" />
<line x1="405.9" y1="702.36" x2="403.4" y2="702.36" stroke="#111" stroke-width="1.3" />
<line x1="405.9" y1="681.32" x2="403.4" y2="681.32" stroke="#111" stroke-width="1.3" />
<line x1="405.9" y1="660.28" x2="403.4" y2="660.28" stroke="#111" stroke-width="1.3" />
<line x1="405.9" y1="639.24" x2="403.4" y2="639.24" stroke="#111" stroke-width="1.3" />
<line x1="405.9" y1="618.2" x2="403.4" y2="618.2" stroke="#111" stroke-width="1.3" />
<line x1="405.9" y1="597.16" x2="403.4" y2="597.16" stroke="#111" stroke-width="1.3" />
<line x1="405.9" y1="576.12" x2="403.4" y2="576.12" stroke="#111" stroke-width="1.3" />
<text x="0" y="0" font-size="9.9" text-anchor="end" fill="#111" stroke="#111" stroke-width="0.2" style="font-family:'Liberation Sans',sans-serif;font-weight:bold" transform="translate(397.9,779.08) scale(1,1.15)" >10</text>
<text x="0" y="0" font-size="9.9" text-anchor="end" fill="#111" stroke="#111" stroke-width="0.2" style="font-family:'Liberation Sans',sans-serif;font-weight:bold" transform="translate(397.9,758.04) scale(1,1.15)" >20</text>
<text x="0" y="0" font-size="9.9" text-anchor="end" fill="#111" stroke="#111" stroke-width="0.2" style="font-family:'Liberation Sans',sans-serif;font-weight:bold" transform="translate(397.9,737) scale(1,1.15)" >30</text>
<text x="0" y="0" font-size="9.9" text-anchor="end" fill="#111" stroke="#111" stroke-width="0.2" style="font-family:'Liberation Sans',sans-serif;font-weight:bold" transform="translate(397.9,715.96) scale(1,1.15)" >40</text>
<text x="0" y="0" font-size="9.9" text-anchor="end" fill="#111" stroke="#111" stroke-width="0.2" style="font-family:'Liberation Sans',sans-serif;font-weight:bold" transform="translate(397.9,694.92) scale(1,1.15)" >50</text>
<text x="0" y="0" font-size="9.9" text-anchor="end" fill="#111" stroke="#111" stroke-width="0.2" style="font-family:'Liberation Sans',sans-serif;font-weight:bold" transform="translate(397.9,673.88) scale(1,1.15)" >60</text>
<text x="0" y="0" font-size="9.9" text-anchor="end" fill="#111" stroke="#111" stroke-width="0.2" style="font-family:'Liberation Sans',sans-serif;font-weight:bold" transform="translate(397.9,652.84) scale(1,1.15)" >70</text>
<text x="0" y="0" font-size="9.9" text-anchor="end" fill="#111" stroke="#111" stroke-width="0.2" style="font-family:'Liberation Sans',sans-serif;font-weight:bold" transform="translate(397.9,631.8) scale(1,1.15)" >80</text>
<text x="0" y="0" font-size="9.9" text-anchor="end" fill="#111" stroke="#111" stroke-width="0.2" style="font-family:'Liberation Sans',sans-serif;font-weight:bold" transform="translate(397.9,610.76) scale(1,1.15)" >90</text>
<text x="0" y="0" font-size="9.9" text-anchor="end" fill="#111" stroke="#111" stroke-width="0.2" style="font-family:'Liberation Sans',sans-serif;font-weight:bold" transform="translate(397.9,589.72) scale(1,1.15)" >100</text>
<text x="0" y="0" font-size="9.9" text-anchor="end" fill="#111" stroke="#111" stroke-width="0.2" style="font-family:'Liberation Sans',sans-serif;font-weight:bold" transform="translate(397.9,568.68) scale(1,1.15)" >110</text>
<line x1="692.8" y1="776" x2="697.8" y2="776" stroke="#1414ff" stroke-width="1.6" />
<line x1="692.8" y1="754.96" x2="697.8" y2="754.96" stroke="#1414ff" stroke-width="1.6" />
<line x1="692.8" y1="733.92" x2="697.8" y2="733.92" stroke="#1414ff" stroke-width="1.6" />
<line x1="692.8" y1="712.88" x2="697.8" y2="712.88" stroke="#1414ff" stroke-width="1.6" />
<line x1="692.8" y1="691.84" x2="697.8" y2="691.84" stroke="#1414ff" stroke-width="1.6" />
<line x1="692.8" y1="670.8" x2="697.8" y2="670.8" stroke="#1414ff" stroke-width="1.6" />
<line x1="692.8" y1="649.76" x2="697.8" y2="649.76" stroke="#1414ff" stroke-width="1.6" />
<line x1="692.8" y1="628.72" x2="697.8" y2="628.72" stroke="#1414ff" stroke-width="1.6" />
<line x1="692.8" y1="607.68" x2="697.8" y2="607.68" stroke="#1414ff" stroke-width="1.6" />
<line x1="692.8" y1="586.64" x2="697.8" y2="586.64" stroke="#1414ff" stroke-width="1.6" />
<line x1="692.8" y1="565.6" x2="697.8" y2="565.6" stroke="#1414ff" stroke-width="1.6" />
<line x1="692.8" y1="765.48" x2="695.8" y2="765.48" stroke="#1414ff" stroke-width="1.6" />
<line x1="692.8" y1="744.44" x2="695.8" y2="744.44" stroke="#1414ff" stroke-width="1.6" />
<line x1="692.8" y1="723.4" x2="695.8" y2="723.4" stroke="#1414ff" stroke-width="1.6" />
<line x1="692.8" y1="702.36" x2="695.8" y2="702.36" stroke="#1414ff" stroke-width="1.6" />
<line x1="692.8" y1="681.32" x2="695.8" y2="681.32" stroke="#1414ff" stroke-width="1.6" />
<line x1="692.8" y1="660.28" x2="695.8" y2="660.28" stroke="#1414ff" stroke-width="1.6" />
<line x1="692.8" y1="639.24" x2="695.8" y2="639.24" stroke="#1414ff" stroke-width="1.6" />
<line x1="692.8" y1="618.2" x2="695.8" y2="618.2" stroke="#1414ff" stroke-width="1.6" />
<line x1="692.8" y1="597.16" x2="695.8" y2="597.16" stroke="#1414ff" stroke-width="1.6" />
<line x1="692.8" y1="576.12" x2="695.8" y2="576.12" stroke="#1414ff" stroke-width="1.6" />
<text x="0" y="0" font-size="10.0" text-anchor="start" fill="#1414ff" stroke="#1414ff" stroke-width="0.2" style="font-family:'Liberation Sans',sans-serif;font-weight:bold" transform="translate(698.4,779.7) scale(1,1.15)" >-5</text>
<text x="0" y="0" font-size="10.0" text-anchor="start" fill="#1414ff" stroke="#1414ff" stroke-width="0.2" style="font-family:'Liberation Sans',sans-serif;font-weight:bold" transform="translate(698.4,758.66) scale(1,1.15)" >-4</text>
<text x="0" y="0" font-size="10.0" text-anchor="start" fill="#1414ff" stroke="#1414ff" stroke-width="0.2" style="font-family:'Liberation Sans',sans-serif;font-weight:bold" transform="translate(698.4,737.62) scale(1,1.15)" >-3</text>
<text x="0" y="0" font-size="10.0" text-anchor="start" fill="#1414ff" stroke="#1414ff" stroke-width="0.2" style="font-family:'Liberation Sans',sans-serif;font-weight:bold" transform="translate(698.4,716.58) scale(1,1.15)" >-2</text>
<text x="0" y="0" font-size="10.0" text-anchor="start" fill="#1414ff" stroke="#1414ff" stroke-width="0.2" style="font-family:'Liberation Sans',sans-serif;font-weight:bold" transform="translate(698.4,695.54) scale(1,1.15)" >-1</text>
<text x="0" y="0" font-size="10.0" text-anchor="start" fill="#1414ff" stroke="#1414ff" stroke-width="0.2" style="font-family:'Liberation Sans',sans-serif;font-weight:bold" transform="translate(700.6,674.5) scale(1,1.15)" >0</text>
<text x="0" y="0" font-size="10.0" text-anchor="start" fill="#1414ff" stroke="#1414ff" stroke-width="0.2" style="font-family:'Liberation Sans',sans-serif;font-weight:bold" transform="translate(700.6,653.46) scale(1,1.15)" >1</text>
<text x="0" y="0" font-size="10.0" text-anchor="start" fill="#1414ff" stroke="#1414ff" stroke-width="0.2" style="font-family:'Liberation Sans',sans-serif;font-weight:bold" transform="translate(700.6,632.42) scale(1,1.15)" >2</text>
<text x="0" y="0" font-size="10.0" text-anchor="start" fill="#1414ff" stroke="#1414ff" stroke-width="0.2" style="font-family:'Liberation Sans',sans-serif;font-weight:bold" transform="translate(700.6,611.38) scale(1,1.15)" >3</text>
<text x="0" y="0" font-size="10.0" text-anchor="start" fill="#1414ff" stroke="#1414ff" stroke-width="0.2" style="font-family:'Liberation Sans',sans-serif;font-weight:bold" transform="translate(700.6,590.34) scale(1,1.15)" >4</text>
<text x="0" y="0" font-size="10.0" text-anchor="start" fill="#1414ff" stroke="#1414ff" stroke-width="0.2" style="font-family:'Liberation Sans',sans-serif;font-weight:bold" transform="translate(700.6,569.3) scale(1,1.15)" >5</text>
<text x="0" y="0" font-size="10.4" text-anchor="middle" fill="#111" stroke="#111" stroke-width="0.2" style="font-family:'Liberation Sans',sans-serif;font-weight:bold" transform="translate(550.2,808.9) scale(1,1.15)" >Temperature (°C)</text>
<text x="0" y="0" font-size="10.3" fill="#111" stroke="#111" stroke-width="0.15" style="font-family:'Liberation Sans',sans-serif;font-weight:bold" transform="translate(382.1,697) rotate(-90) scale(0.9860,1)">Weight (%)</text>
<text x="0" y="0" font-size="10.3" fill="#1414ff" stroke="#1414ff" stroke-width="0.15" style="font-family:'Liberation Sans',sans-serif;font-weight:bold" transform="translate(720.9,711.5) rotate(-90) scale(1.0291,1)">Heat Flow (W/g)</text>
<text x="0" y="0" font-size="21.9" fill="#111" stroke="#111" stroke-width="0.6" style="font-family:'Liberation Sans',sans-serif;font-weight:bold" transform="translate(381.8,552.7) scale(0.98,1)">f</text>
<rect x="641.4" y="573.8" width="49.4" height="17" fill="#111"/>
<rect x="638.6" y="570" width="49.8" height="17.4" fill="#fff" stroke="#666" stroke-width="0.5"/>
<line x1="638.9" y1="574.8" x2="654.3" y2="574.8" stroke="#111" stroke-width="1.4" />
<line x1="638.9" y1="582.9" x2="654.3" y2="582.9" stroke="#1414ff" stroke-width="1.3" />
<text x="0" y="0" font-size="6.35" text-anchor="start" fill="#111" stroke="#111" stroke-width="0.2" style="font-family:'Liberation Sans',sans-serif;font-weight:bold" transform="translate(656.2,577.3) scale(1,1.15)" >Weight</text>
<text x="0" y="0" font-size="6.5" text-anchor="start" fill="#111" stroke="#111" stroke-width="0.2" style="font-family:'Liberation Sans',sans-serif;font-weight:bold" transform="translate(656.2,585.4) scale(1,1.15)" >Heat Flow</text>
<text x="412" y="559.5" font-size="10.4" text-anchor="start" fill="#1a1a1a" stroke="#1a1a1a" stroke-width="0.35" style="font-family:'Liberation Serif',serif;font-weight:bold" >9.389 mg</text>
<text x="409.2" y="576.4" font-size="9.1" text-anchor="start" fill="#1a1a1a" stroke="#1a1a1a" stroke-width="0.35" style="font-family:'Liberation Serif',serif;font-weight:bold" >0.42 %</text>
<text x="416.8" y="584.3" font-size="9.4" text-anchor="start" fill="#1a1a1a" stroke="#1a1a1a" stroke-width="0.35" style="font-family:'Liberation Serif',serif;font-weight:bold" >(0.0394 mg)</text>
<text x="487.9" y="590.8" font-size="9.0" text-anchor="start" fill="#1a1a1a" stroke="#1a1a1a" stroke-width="0.35" style="font-family:'Liberation Serif',serif;font-weight:bold" >6.54 %</text>
<text x="487.9" y="598.4" font-size="9.2" text-anchor="start" fill="#1a1a1a" stroke="#1a1a1a" stroke-width="0.35" style="font-family:'Liberation Serif',serif;font-weight:bold" >(0.6139 mg)</text>
<text x="557.3" y="628.2" font-size="8.9" text-anchor="start" fill="#1a1a1a" stroke="#1a1a1a" stroke-width="0.35" style="font-family:'Liberation Serif',serif;font-weight:bold" >51.15 %</text>
<text x="557.3" y="637.5" font-size="9.3" text-anchor="start" fill="#1a1a1a" stroke="#1a1a1a" stroke-width="0.35" style="font-family:'Liberation Serif',serif;font-weight:bold" >(4.803 mg)</text>
<text x="439.9" y="643.9" font-size="9.2" text-anchor="start" fill="#1a8a1a" stroke="#1a8a1a" stroke-width="0.35" style="font-family:'Liberation Serif',serif;font-weight:bold" >191.82 <tspan dy="-3" font-size="6.5">o</tspan><tspan dy="3">C</tspan></text>
<text x="439.9" y="654.2" font-size="9.4" text-anchor="start" fill="#1a8a1a" stroke="#1a8a1a" stroke-width="0.35" style="font-family:'Liberation Serif',serif;font-weight:bold" >164.6 J/g</text>
<text x="512" y="649.9" font-size="9.2" text-anchor="start" fill="#1a8a1a" stroke="#1a8a1a" stroke-width="0.35" style="font-family:'Liberation Serif',serif;font-weight:bold" >490.15 <tspan dy="-3" font-size="6.5">o</tspan><tspan dy="3">C</tspan></text>
<text x="516.5" y="657.6" font-size="9.4" text-anchor="start" fill="#1a8a1a" stroke="#1a8a1a" stroke-width="0.35" style="font-family:'Liberation Serif',serif;font-weight:bold" >254.1 J/g</text>
<text x="608.3" y="687.7" font-size="9.2" text-anchor="start" fill="#1a8a1a" stroke="#1a8a1a" stroke-width="0.35" style="font-family:'Liberation Serif',serif;font-weight:bold" >713.18 <tspan dy="-3" font-size="6.5">o</tspan><tspan dy="3">C</tspan></text>
<text x="608.5" y="700" font-size="9.4" text-anchor="start" fill="#1a8a1a" stroke="#1a8a1a" stroke-width="0.35" style="font-family:'Liberation Serif',serif;font-weight:bold" >17.51 J/g</text>
<text x="443.5" y="710.8" font-size="9.3" text-anchor="start" fill="#1414ff" stroke="#1414ff" stroke-width="0.35" style="font-family:'Liberation Serif',serif;font-weight:bold" >226.40 °C</text>
<text x="522.6" y="733.7" font-size="9.2" text-anchor="start" fill="#1414ff" stroke="#1414ff" stroke-width="0.35" style="font-family:'Liberation Serif',serif;font-weight:bold" >526.86 <tspan dy="-3" font-size="6.5">o</tspan><tspan dy="3">C</tspan></text>
<text x="571.2" y="730.2" font-size="9.2" text-anchor="start" fill="#1414ff" stroke="#1414ff" stroke-width="0.35" style="font-family:'Liberation Serif',serif;font-weight:bold" >751.23 <tspan dy="-3" font-size="6.5">o</tspan><tspan dy="3">C</tspan></text>
<text x="647" y="718.5" font-size="9.2" text-anchor="start" fill="#1a1a1a" stroke="#1a1a1a" stroke-width="0.35" style="font-family:'Liberation Serif',serif;font-weight:bold" >23.78 %</text>
<text x="644.6" y="728.4" font-size="9.5" text-anchor="start" fill="#1a1a1a" stroke="#1a1a1a" stroke-width="0.35" style="font-family:'Liberation Serif',serif;font-weight:bold" >(2.233 mg)</text>
<text x="552" y="758" font-size="9.4" text-anchor="start" fill="#1a1a1a" stroke="#1a1a1a" stroke-width="0.35" style="font-family:'Liberation Serif',serif;font-weight:bold" >The remaining residue</text>
<text x="552" y="769.2" font-size="9.3" text-anchor="start" fill="#1a1a1a" stroke="#1a1a1a" stroke-width="0.35" style="font-family:'Liberation Serif',serif;font-weight:bold" >18.11 % (1.6997 mg) &gt;&gt;( Zn)</text>
</svg></body></html>
